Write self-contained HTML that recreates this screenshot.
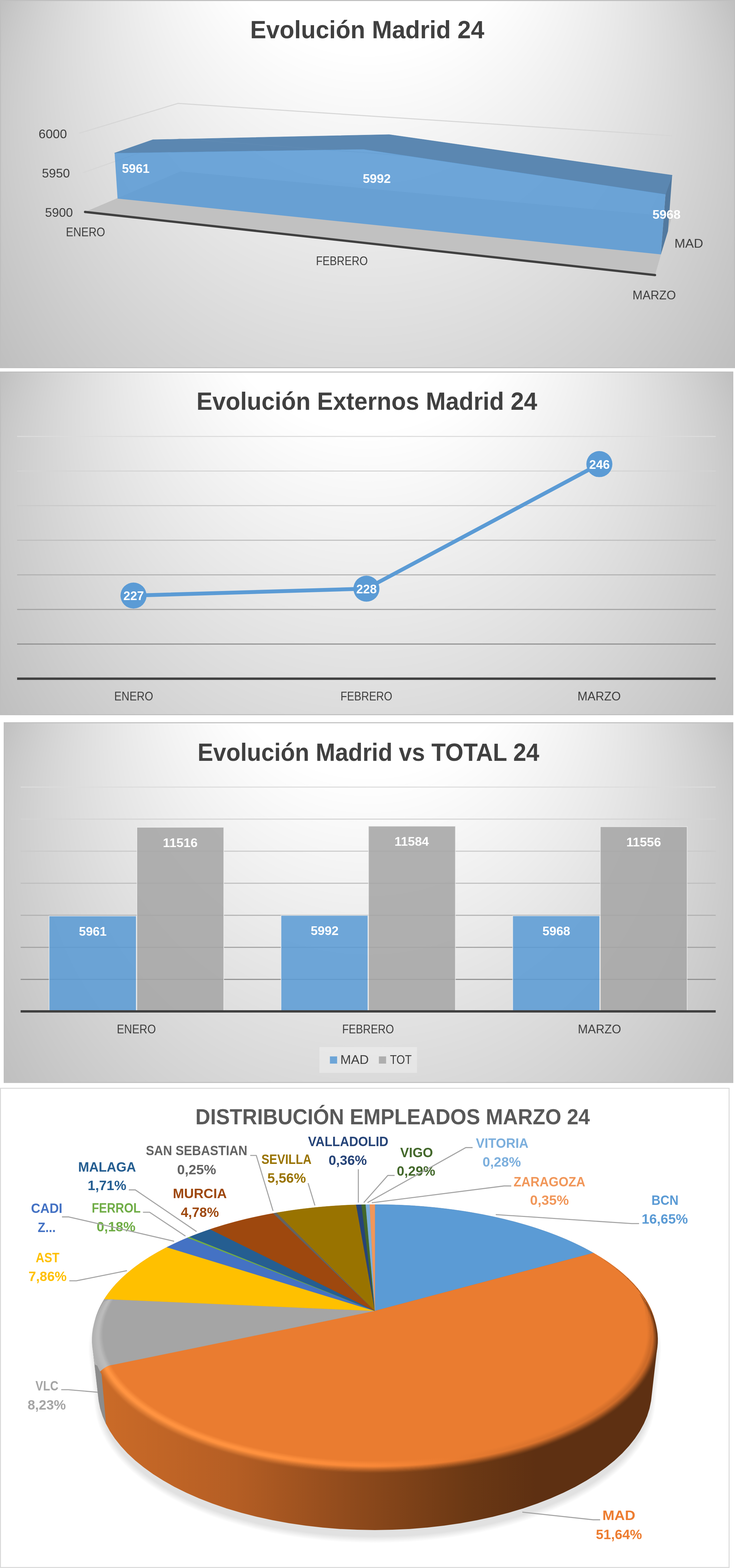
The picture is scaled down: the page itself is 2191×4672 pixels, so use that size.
<!DOCTYPE html>
<html lang="es"><head><meta charset="utf-8"><title>Evolución Madrid 24</title>
<style>html,body{margin:0;padding:0;background:#fff}svg{display:block}text{font-family:"Liberation Sans",sans-serif}</style></head>
<body>
<svg width="2191" height="4672" viewBox="0 0 2191 4672">
<defs>
<clipPath id="bg1"><rect x="3" y="3" width="2185" height="1091"/></clipPath>
<clipPath id="bg2"><rect x="3" y="1110" width="2180" height="1018"/></clipPath>
<clipPath id="bg3"><rect x="14" y="2155" width="2169" height="1068.8000000000002"/></clipPath>
<linearGradient id="wall" gradientUnits="userSpaceOnUse" x1="275" y1="0" x2="1962" y2="0"><stop offset="0.000" stop-color="#8c8c8c"/><stop offset="0.013" stop-color="#8c8c8c"/><stop offset="0.013" stop-color="#cb6b28"/><stop offset="0.252" stop-color="#b55e24"/><stop offset="0.459" stop-color="#8f4a1c"/><stop offset="0.667" stop-color="#6b3814"/><stop offset="0.785" stop-color="#5e3012"/><stop offset="1.000" stop-color="#5e3012"/></linearGradient>
<clipPath id="hullc"><polygon points="274.7,4000.0 275.1,3979.0 277.9,3958.2 281.4,3940.9 287.0,3920.8 294.6,3901.1 304.3,3881.8 316.0,3862.9 329.5,3844.5 344.8,3826.6 361.8,3809.3 380.4,3792.5 400.6,3776.3 422.2,3760.6 445.2,3745.6 469.4,3731.3 494.9,3717.5 521.5,3704.5 549.1,3692.1 577.7,3680.4 607.3,3669.4 637.6,3659.0 668.8,3649.4 700.7,3640.5 733.2,3632.2 766.3,3624.7 799.9,3617.9 834.1,3611.8 868.6,3606.4 903.5,3601.8 938.7,3597.8 974.1,3594.6 1009.8,3592.1 1045.6,3590.3 1081.5,3589.2 1117.5,3588.9 1153.5,3589.2 1189.4,3590.3 1225.2,3592.1 1260.9,3594.6 1296.3,3597.8 1331.5,3601.8 1366.4,3606.4 1400.9,3611.8 1435.1,3617.9 1468.7,3624.7 1501.8,3632.2 1534.3,3640.5 1566.2,3649.4 1597.4,3659.0 1627.7,3669.4 1657.3,3680.4 1685.9,3692.1 1713.5,3704.5 1740.1,3717.5 1765.6,3731.3 1789.8,3745.6 1812.8,3760.6 1834.4,3776.3 1854.6,3792.5 1873.2,3809.3 1890.2,3826.6 1905.5,3844.5 1919.0,3862.9 1930.7,3881.8 1940.4,3901.1 1948.0,3920.8 1953.6,3940.9 1957.1,3958.2 1959.9,3979.0 1960.3,4000.0 1958.3,4021.3 1940.8,4174.3 1936.2,4196.8 1929.1,4219.3 1919.5,4241.8 1907.3,4264.3 1892.5,4286.5 1875.0,4308.5 1854.9,4330.2 1832.1,4351.4 1806.7,4372.1 1778.6,4392.2 1748.0,4411.6 1714.9,4430.2 1679.5,4447.8 1641.6,4464.4 1601.6,4480.0 1559.6,4494.4 1515.6,4507.5 1469.8,4519.2 1422.5,4529.6 1373.8,4538.4 1324.0,4545.8 1273.2,4551.5 1221.7,4555.7 1169.7,4558.1 1117.5,4559.0 1065.3,4558.1 1013.3,4555.7 961.8,4551.5 911.0,4545.8 861.2,4538.4 812.5,4529.6 765.2,4519.2 719.4,4507.5 675.4,4494.4 633.4,4480.0 593.4,4464.4 555.5,4447.8 520.1,4430.2 487.0,4411.6 456.4,4392.2 428.3,4372.1 402.9,4351.4 380.1,4330.2 360.0,4308.5 342.5,4286.5 327.7,4264.3 315.5,4241.8 305.9,4219.3 298.8,4196.8 294.2,4174.3 276.7,4021.3"/></clipPath>
<linearGradient id="bv0" gradientUnits="userSpaceOnUse" x1="275" y1="0" x2="1962" y2="0"><stop offset="0.000" stop-color="#ec7e32"/><stop offset="0.311" stop-color="#ec7e31"/><stop offset="0.499" stop-color="#eb7d31"/><stop offset="0.637" stop-color="#ea7c30"/><stop offset="0.815" stop-color="#e87b30"/><stop offset="1.000" stop-color="#e77a2f"/></linearGradient>
<linearGradient id="bv1" gradientUnits="userSpaceOnUse" x1="275" y1="0" x2="1962" y2="0"><stop offset="0.000" stop-color="#f08235"/><stop offset="0.311" stop-color="#f08234"/><stop offset="0.499" stop-color="#ee7f32"/><stop offset="0.637" stop-color="#ea7c30"/><stop offset="0.815" stop-color="#e5792f"/><stop offset="1.000" stop-color="#e2772e"/></linearGradient>
<linearGradient id="bv2" gradientUnits="userSpaceOnUse" x1="275" y1="0" x2="1962" y2="0"><stop offset="0.000" stop-color="#f38738"/><stop offset="0.311" stop-color="#f38536"/><stop offset="0.499" stop-color="#f08133"/><stop offset="0.637" stop-color="#ea7c30"/><stop offset="0.815" stop-color="#e2782e"/><stop offset="1.000" stop-color="#dd742c"/></linearGradient>
<linearGradient id="bv3" gradientUnits="userSpaceOnUse" x1="275" y1="0" x2="1962" y2="0"><stop offset="0.000" stop-color="#f78b3b"/><stop offset="0.311" stop-color="#f78939"/><stop offset="0.499" stop-color="#f38334"/><stop offset="0.637" stop-color="#ea7c30"/><stop offset="0.815" stop-color="#df762e"/><stop offset="1.000" stop-color="#d7712b"/></linearGradient>
<linearGradient id="bv4" gradientUnits="userSpaceOnUse" x1="275" y1="0" x2="1962" y2="0"><stop offset="0.000" stop-color="#fb8f3e"/><stop offset="0.311" stop-color="#fb8d3b"/><stop offset="0.499" stop-color="#f58536"/><stop offset="0.637" stop-color="#ea7c30"/><stop offset="0.815" stop-color="#dc742d"/><stop offset="1.000" stop-color="#d26e2a"/></linearGradient>
<linearGradient id="bv5" gradientUnits="userSpaceOnUse" x1="275" y1="0" x2="1962" y2="0"><stop offset="0.000" stop-color="#ff9442"/><stop offset="0.311" stop-color="#ff913e"/><stop offset="0.499" stop-color="#f88737"/><stop offset="0.637" stop-color="#ea7c30"/><stop offset="0.815" stop-color="#d9722c"/><stop offset="1.000" stop-color="#cd6a28"/></linearGradient>
<linearGradient id="bv6" gradientUnits="userSpaceOnUse" x1="275" y1="0" x2="1962" y2="0"><stop offset="0.000" stop-color="#ff9442"/><stop offset="0.311" stop-color="#ff913e"/><stop offset="0.499" stop-color="#f88737"/><stop offset="0.637" stop-color="#ea7c30"/><stop offset="0.815" stop-color="#d9722c"/><stop offset="1.000" stop-color="#cc6a28"/></linearGradient>
<linearGradient id="bv7" gradientUnits="userSpaceOnUse" x1="275" y1="0" x2="1962" y2="0"><stop offset="0.000" stop-color="#ff9442"/><stop offset="0.311" stop-color="#ff913e"/><stop offset="0.499" stop-color="#f88737"/><stop offset="0.637" stop-color="#ea7c30"/><stop offset="0.815" stop-color="#d9722c"/><stop offset="1.000" stop-color="#cc6a28"/></linearGradient>
<linearGradient id="bv8" gradientUnits="userSpaceOnUse" x1="275" y1="0" x2="1962" y2="0"><stop offset="0.000" stop-color="#f98f3f"/><stop offset="0.311" stop-color="#f48a3a"/><stop offset="0.499" stop-color="#ea7f33"/><stop offset="0.637" stop-color="#db742d"/><stop offset="0.815" stop-color="#c96a29"/><stop offset="1.000" stop-color="#be6325"/></linearGradient>
<linearGradient id="bv9" gradientUnits="userSpaceOnUse" x1="275" y1="0" x2="1962" y2="0"><stop offset="0.000" stop-color="#f0893b"/><stop offset="0.311" stop-color="#e78136"/><stop offset="0.499" stop-color="#d8752f"/><stop offset="0.637" stop-color="#c76928"/><stop offset="0.815" stop-color="#b65f25"/><stop offset="1.000" stop-color="#ad5922"/></linearGradient>
<linearGradient id="bv10" gradientUnits="userSpaceOnUse" x1="275" y1="0" x2="1962" y2="0"><stop offset="0.000" stop-color="#e88237"/><stop offset="0.311" stop-color="#d97832"/><stop offset="0.499" stop-color="#c66b2a"/><stop offset="0.637" stop-color="#b45f24"/><stop offset="0.815" stop-color="#a25520"/><stop offset="1.000" stop-color="#9b501e"/></linearGradient>
<linearGradient id="bv11" gradientUnits="userSpaceOnUse" x1="275" y1="0" x2="1962" y2="0"><stop offset="0.000" stop-color="#e07c33"/><stop offset="0.311" stop-color="#cc6f2d"/><stop offset="0.499" stop-color="#b46026"/><stop offset="0.637" stop-color="#a05520"/><stop offset="0.815" stop-color="#8f4a1c"/><stop offset="1.000" stop-color="#8a471b"/></linearGradient>
<linearGradient id="bv12" gradientUnits="userSpaceOnUse" x1="275" y1="0" x2="1962" y2="0"><stop offset="0.000" stop-color="#d8762f"/><stop offset="0.311" stop-color="#be6629"/><stop offset="0.499" stop-color="#a35621"/><stop offset="0.637" stop-color="#8d4a1b"/><stop offset="0.815" stop-color="#7b4018"/><stop offset="1.000" stop-color="#783e17"/></linearGradient>
<linearGradient id="bv13" gradientUnits="userSpaceOnUse" x1="275" y1="0" x2="1962" y2="0"><stop offset="0.000" stop-color="#d06f2b"/><stop offset="0.311" stop-color="#b15d24"/><stop offset="0.499" stop-color="#914c1c"/><stop offset="0.637" stop-color="#7a4017"/><stop offset="0.815" stop-color="#683514"/><stop offset="1.000" stop-color="#673514"/></linearGradient>
</defs>
<g id="chart1">
<rect x="0" y="0" width="2191" height="1097" fill="#bfbfbf"/>
<g clip-path="url(#bg1)">
<circle cx="1095.5" cy="541.7" r="1219.3" fill="#c0c0c0"/>
<circle cx="1095.5" cy="528.1" r="1207.6" fill="#c1c1c1"/>
<circle cx="1095.5" cy="514.5" r="1195.9" fill="#c2c2c2"/>
<circle cx="1095.5" cy="500.9" r="1184.3" fill="#c3c3c3"/>
<circle cx="1095.5" cy="487.3" r="1172.6" fill="#c4c4c4"/>
<circle cx="1095.5" cy="473.7" r="1160.9" fill="#c5c5c5"/>
<circle cx="1095.5" cy="460.1" r="1149.2" fill="#c6c6c6"/>
<circle cx="1095.5" cy="446.6" r="1137.6" fill="#c7c7c7"/>
<circle cx="1095.5" cy="433.0" r="1125.9" fill="#c8c8c8"/>
<circle cx="1095.5" cy="419.4" r="1114.2" fill="#c9c9c9"/>
<circle cx="1095.5" cy="405.8" r="1102.5" fill="#cacaca"/>
<circle cx="1095.5" cy="392.2" r="1090.9" fill="#cbcbcb"/>
<circle cx="1095.5" cy="378.6" r="1079.2" fill="#cccccc"/>
<circle cx="1095.5" cy="365.0" r="1067.5" fill="#cdcdcd"/>
<circle cx="1095.5" cy="351.4" r="1055.8" fill="#cecece"/>
<circle cx="1095.5" cy="337.8" r="1044.1" fill="#cfcfcf"/>
<circle cx="1095.5" cy="324.2" r="1032.5" fill="#d0d0d0"/>
<circle cx="1095.5" cy="310.6" r="1020.8" fill="#d1d1d1"/>
<circle cx="1095.5" cy="297.0" r="1009.1" fill="#d2d2d2"/>
<circle cx="1095.5" cy="283.4" r="997.4" fill="#d3d3d3"/>
<circle cx="1095.5" cy="269.9" r="985.8" fill="#d4d4d4"/>
<circle cx="1095.5" cy="256.3" r="974.1" fill="#d5d5d5"/>
<circle cx="1095.5" cy="242.7" r="962.4" fill="#d6d6d6"/>
<circle cx="1095.5" cy="229.1" r="950.7" fill="#d7d7d7"/>
<circle cx="1095.5" cy="215.5" r="939.1" fill="#d8d8d8"/>
<circle cx="1095.5" cy="201.9" r="927.4" fill="#d9d9d9"/>
<circle cx="1095.5" cy="188.3" r="915.7" fill="#dadada"/>
<circle cx="1095.5" cy="174.7" r="904.0" fill="#dbdbdb"/>
<circle cx="1095.5" cy="161.1" r="892.3" fill="#dcdcdc"/>
<circle cx="1095.5" cy="147.5" r="880.7" fill="#dddddd"/>
<circle cx="1095.5" cy="133.9" r="869.0" fill="#dedede"/>
<circle cx="1095.5" cy="120.3" r="857.3" fill="#dfdfdf"/>
<circle cx="1095.5" cy="106.7" r="845.6" fill="#e0e0e0"/>
<circle cx="1095.5" cy="93.2" r="834.0" fill="#e1e1e1"/>
<circle cx="1095.5" cy="79.6" r="822.3" fill="#e2e2e2"/>
<circle cx="1095.5" cy="66.0" r="810.6" fill="#e3e3e3"/>
<circle cx="1095.5" cy="52.4" r="798.9" fill="#e4e4e4"/>
<circle cx="1095.5" cy="38.8" r="787.2" fill="#e5e5e5"/>
<circle cx="1095.5" cy="25.2" r="775.6" fill="#e6e6e6"/>
<circle cx="1095.5" cy="11.6" r="763.9" fill="#e7e7e7"/>
<circle cx="1095.5" cy="-2.0" r="752.2" fill="#e8e8e8"/>
<circle cx="1095.5" cy="-15.6" r="740.5" fill="#e9e9e9"/>
<circle cx="1095.5" cy="-29.2" r="728.9" fill="#eaeaea"/>
<circle cx="1095.5" cy="-42.8" r="717.2" fill="#ebebeb"/>
<circle cx="1095.5" cy="-56.4" r="705.5" fill="#ececec"/>
<circle cx="1095.5" cy="-70.0" r="693.8" fill="#ededed"/>
<circle cx="1095.5" cy="-83.6" r="682.2" fill="#eeeeee"/>
<circle cx="1095.5" cy="-97.1" r="670.5" fill="#efefef"/>
<circle cx="1095.5" cy="-110.7" r="658.8" fill="#f0f0f0"/>
<circle cx="1095.5" cy="-124.3" r="647.1" fill="#f1f1f1"/>
<circle cx="1095.5" cy="-137.9" r="635.4" fill="#f2f2f2"/>
<circle cx="1095.5" cy="-151.5" r="623.8" fill="#f3f3f3"/>
<circle cx="1095.5" cy="-165.1" r="612.1" fill="#f4f4f4"/>
<circle cx="1095.5" cy="-178.7" r="600.4" fill="#f5f5f5"/>
<circle cx="1095.5" cy="-192.3" r="588.7" fill="#f6f6f6"/>
<circle cx="1095.5" cy="-205.9" r="577.1" fill="#f7f7f7"/>
<circle cx="1095.5" cy="-219.5" r="565.4" fill="#f8f8f8"/>
<circle cx="1095.5" cy="-233.1" r="553.7" fill="#f9f9f9"/>
<circle cx="1095.5" cy="-246.7" r="542.0" fill="#fafafa"/>
<circle cx="1095.5" cy="-260.3" r="530.4" fill="#fbfbfb"/>
<circle cx="1095.5" cy="-273.8" r="518.7" fill="#fcfcfc"/>
<circle cx="1095.5" cy="-287.4" r="507.0" fill="#fdfdfd"/>
<circle cx="1095.5" cy="-301.0" r="495.3" fill="#fefefe"/>
<circle cx="1095.5" cy="-314.6" r="483.6" fill="#ffffff"/>
</g>
<polyline points="236.0,397.0 530.3,308.1 2003.0,404.5" fill="none" stroke="#d6d6d6" stroke-width="3" stroke-linejoin="round"/>
<polyline points="247.0,514.7 535.0,413.5 2003.0,523.0" fill="none" stroke="#d6d6d6" stroke-width="3" stroke-linejoin="round"/>
<polygon points="253.6,631.5 537.7,510.8 2003.0,645.0 1952.6,819.7" fill="#c1c1c1"/>
<polygon points="1983.8,578.8 2003.6,522.2 1991.3,688.5 1970.0,758.0" fill="#52799f"/>
<polygon points="341.6,456.1 455.8,416.4 1160.1,401.0 2003.6,522.2 1983.8,578.8 1083.1,444.7" fill="#5b87b1" stroke="#5b87b1" stroke-width="1.2" stroke-linejoin="round"/>
<polyline points="600.0,418.4 1000.0,448.2" fill="none" stroke="#6a92ba" stroke-width="2" stroke-opacity="0.3"/>
<polygon points="341.6,456.1 1083.1,444.7 1983.8,578.8 1970.0,758.0 350.5,591.7" fill="#5b9bd5" fill-opacity="0.88"/>
<polyline points="253.6,631.5 1952.6,819.7" fill="none" stroke="#404040" stroke-width="6.8" stroke-linecap="round"/>
<text transform="translate(745.7,113.7) scale(0.965,1)" font-size="74.4" font-weight="bold" fill="#404040">Evolución Madrid 24</text>
<text transform="translate(115.1,412.0) scale(1.037,1)" font-size="36.6" fill="#404040">6000</text>
<text transform="translate(125.0,529.3) scale(1.024,1)" font-size="36.6" fill="#404040">5950</text>
<text transform="translate(134.3,645.7) scale(1.019,1)" font-size="36.6" fill="#404040">5900</text>
<text transform="translate(196.6,704.3) scale(0.898,1)" font-size="36.6" fill="#404040">ENERO</text>
<text transform="translate(941.9,790.0) scale(0.874,1)" font-size="36.6" fill="#404040">FEBRERO</text>
<text transform="translate(1885.6,891.7) scale(0.978,1)" font-size="36.6" fill="#404040">MARZO</text>
<text transform="translate(2010.4,738.2) scale(1.056,1)" font-size="36.6" fill="#404040">MAD</text>
<text transform="translate(363.4,515.0) scale(1.014,1)" font-size="36.6" font-weight="bold" fill="#fff">5961</text>
<text transform="translate(1081.4,545.0) scale(1.027,1)" font-size="36.6" font-weight="bold" fill="#fff">5992</text>
<text transform="translate(1945.0,652.3) scale(1.027,1)" font-size="36.6" font-weight="bold" fill="#fff">5968</text>
</g>
<g id="chart2">
<rect x="0" y="1107" width="2186" height="1024" fill="#bfbfbf"/>
<g clip-path="url(#bg2)">
<circle cx="1093.0" cy="1612.7" r="1201.2" fill="#c0c0c0"/>
<circle cx="1093.0" cy="1600.0" r="1189.7" fill="#c1c1c1"/>
<circle cx="1093.0" cy="1587.3" r="1178.2" fill="#c2c2c2"/>
<circle cx="1093.0" cy="1574.6" r="1166.7" fill="#c3c3c3"/>
<circle cx="1093.0" cy="1561.9" r="1155.2" fill="#c4c4c4"/>
<circle cx="1093.0" cy="1549.2" r="1143.7" fill="#c5c5c5"/>
<circle cx="1093.0" cy="1536.5" r="1132.2" fill="#c6c6c6"/>
<circle cx="1093.0" cy="1523.8" r="1120.7" fill="#c7c7c7"/>
<circle cx="1093.0" cy="1511.2" r="1109.2" fill="#c8c8c8"/>
<circle cx="1093.0" cy="1498.5" r="1097.7" fill="#c9c9c9"/>
<circle cx="1093.0" cy="1485.8" r="1086.2" fill="#cacaca"/>
<circle cx="1093.0" cy="1473.1" r="1074.7" fill="#cbcbcb"/>
<circle cx="1093.0" cy="1460.4" r="1063.2" fill="#cccccc"/>
<circle cx="1093.0" cy="1447.7" r="1051.7" fill="#cdcdcd"/>
<circle cx="1093.0" cy="1435.0" r="1040.2" fill="#cecece"/>
<circle cx="1093.0" cy="1422.3" r="1028.7" fill="#cfcfcf"/>
<circle cx="1093.0" cy="1409.6" r="1017.2" fill="#d0d0d0"/>
<circle cx="1093.0" cy="1397.0" r="1005.7" fill="#d1d1d1"/>
<circle cx="1093.0" cy="1384.3" r="994.2" fill="#d2d2d2"/>
<circle cx="1093.0" cy="1371.6" r="982.6" fill="#d3d3d3"/>
<circle cx="1093.0" cy="1358.9" r="971.1" fill="#d4d4d4"/>
<circle cx="1093.0" cy="1346.2" r="959.6" fill="#d5d5d5"/>
<circle cx="1093.0" cy="1333.5" r="948.1" fill="#d6d6d6"/>
<circle cx="1093.0" cy="1320.8" r="936.6" fill="#d7d7d7"/>
<circle cx="1093.0" cy="1308.1" r="925.1" fill="#d8d8d8"/>
<circle cx="1093.0" cy="1295.5" r="913.6" fill="#d9d9d9"/>
<circle cx="1093.0" cy="1282.8" r="902.1" fill="#dadada"/>
<circle cx="1093.0" cy="1270.1" r="890.6" fill="#dbdbdb"/>
<circle cx="1093.0" cy="1257.4" r="879.1" fill="#dcdcdc"/>
<circle cx="1093.0" cy="1244.7" r="867.6" fill="#dddddd"/>
<circle cx="1093.0" cy="1232.0" r="856.1" fill="#dedede"/>
<circle cx="1093.0" cy="1219.3" r="844.6" fill="#dfdfdf"/>
<circle cx="1093.0" cy="1206.6" r="833.1" fill="#e0e0e0"/>
<circle cx="1093.0" cy="1194.0" r="821.6" fill="#e1e1e1"/>
<circle cx="1093.0" cy="1181.3" r="810.1" fill="#e2e2e2"/>
<circle cx="1093.0" cy="1168.6" r="798.6" fill="#e3e3e3"/>
<circle cx="1093.0" cy="1155.9" r="787.1" fill="#e4e4e4"/>
<circle cx="1093.0" cy="1143.2" r="775.6" fill="#e5e5e5"/>
<circle cx="1093.0" cy="1130.5" r="764.1" fill="#e6e6e6"/>
<circle cx="1093.0" cy="1117.8" r="752.6" fill="#e7e7e7"/>
<circle cx="1093.0" cy="1105.1" r="741.1" fill="#e8e8e8"/>
<circle cx="1093.0" cy="1092.4" r="729.6" fill="#e9e9e9"/>
<circle cx="1093.0" cy="1079.8" r="718.1" fill="#eaeaea"/>
<circle cx="1093.0" cy="1067.1" r="706.6" fill="#ebebeb"/>
<circle cx="1093.0" cy="1054.4" r="695.0" fill="#ececec"/>
<circle cx="1093.0" cy="1041.7" r="683.5" fill="#ededed"/>
<circle cx="1093.0" cy="1029.0" r="672.0" fill="#eeeeee"/>
<circle cx="1093.0" cy="1016.3" r="660.5" fill="#efefef"/>
<circle cx="1093.0" cy="1003.6" r="649.0" fill="#f0f0f0"/>
<circle cx="1093.0" cy="990.9" r="637.5" fill="#f1f1f1"/>
<circle cx="1093.0" cy="978.3" r="626.0" fill="#f2f2f2"/>
<circle cx="1093.0" cy="965.6" r="614.5" fill="#f3f3f3"/>
<circle cx="1093.0" cy="952.9" r="603.0" fill="#f4f4f4"/>
<circle cx="1093.0" cy="940.2" r="591.5" fill="#f5f5f5"/>
<circle cx="1093.0" cy="927.5" r="580.0" fill="#f6f6f6"/>
<circle cx="1093.0" cy="914.8" r="568.5" fill="#f7f7f7"/>
<circle cx="1093.0" cy="902.1" r="557.0" fill="#f8f8f8"/>
<circle cx="1093.0" cy="889.4" r="545.5" fill="#f9f9f9"/>
<circle cx="1093.0" cy="876.8" r="534.0" fill="#fafafa"/>
<circle cx="1093.0" cy="864.1" r="522.5" fill="#fbfbfb"/>
<circle cx="1093.0" cy="851.4" r="511.0" fill="#fcfcfc"/>
<circle cx="1093.0" cy="838.7" r="499.5" fill="#fdfdfd"/>
<circle cx="1093.0" cy="826.0" r="488.0" fill="#fefefe"/>
<circle cx="1093.0" cy="813.3" r="476.5" fill="#ffffff"/>
</g>
<rect x="51" y="1298.9" width="2082.5" height="3" fill="#dcdcdc"/>
<rect x="51" y="1402.0" width="2082.5" height="3" fill="#d4d4d4"/>
<rect x="51" y="1505.1" width="2082.5" height="3" fill="#c9c9c9"/>
<rect x="51" y="1608.2" width="2082.5" height="3" fill="#bdbdbd"/>
<rect x="51" y="1711.3" width="2082.5" height="3" fill="#b0b0b0"/>
<rect x="51" y="1814.4" width="2082.5" height="3" fill="#a0a0a0"/>
<rect x="51" y="1917.5" width="2082.5" height="3" fill="#8a8a8a"/>
<rect x="51" y="2018.7" width="2082.5" height="7" fill="#404040"/>
<polyline points="398.0,1774.5 1092.3,1754.0 1786.7,1382.8" fill="none" stroke="#5b9bd5" stroke-width="11.5" stroke-linejoin="round"/>
<circle cx="398" cy="1774.5" r="38.8" fill="#5b9bd5"/>
<circle cx="1092.3" cy="1754" r="38.8" fill="#5b9bd5"/>
<circle cx="1786.7" cy="1382.8" r="38.8" fill="#5b9bd5"/>
<text transform="translate(585.8,1221.4) scale(0.956,1)" font-size="74.4" font-weight="bold" fill="#404040">Evolución Externos Madrid 24</text>
<text transform="translate(367.7,1788.3) scale(1.005,1)" font-size="36.6" font-weight="bold" fill="#fff">227</text>
<text transform="translate(1062.0,1767.8) scale(0.999,1)" font-size="36.6" font-weight="bold" fill="#fff">228</text>
<text transform="translate(1756.2,1396.6) scale(1.011,1)" font-size="36.6" font-weight="bold" fill="#fff">246</text>
<text transform="translate(340.6,2087.3) scale(0.891,1)" font-size="36.6" fill="#404040">ENERO</text>
<text transform="translate(1014.9,2087.3) scale(0.874,1)" font-size="36.6" fill="#404040">FEBRERO</text>
<text transform="translate(1721.6,2087.3) scale(0.976,1)" font-size="36.6" fill="#404040">MARZO</text>
</g>
<g id="chart3">
<rect x="11" y="2152" width="2175" height="1074.8000000000002" fill="#bfbfbf"/>
<g clip-path="url(#bg3)">
<circle cx="1098.5" cy="2682.7" r="1207.3" fill="#c0c0c0"/>
<circle cx="1098.5" cy="2669.4" r="1195.7" fill="#c1c1c1"/>
<circle cx="1098.5" cy="2656.1" r="1184.1" fill="#c2c2c2"/>
<circle cx="1098.5" cy="2642.8" r="1172.6" fill="#c3c3c3"/>
<circle cx="1098.5" cy="2629.5" r="1161.0" fill="#c4c4c4"/>
<circle cx="1098.5" cy="2616.2" r="1149.4" fill="#c5c5c5"/>
<circle cx="1098.5" cy="2602.8" r="1137.9" fill="#c6c6c6"/>
<circle cx="1098.5" cy="2589.5" r="1126.3" fill="#c7c7c7"/>
<circle cx="1098.5" cy="2576.2" r="1114.8" fill="#c8c8c8"/>
<circle cx="1098.5" cy="2562.9" r="1103.2" fill="#c9c9c9"/>
<circle cx="1098.5" cy="2549.6" r="1091.6" fill="#cacaca"/>
<circle cx="1098.5" cy="2536.2" r="1080.1" fill="#cbcbcb"/>
<circle cx="1098.5" cy="2522.9" r="1068.5" fill="#cccccc"/>
<circle cx="1098.5" cy="2509.6" r="1057.0" fill="#cdcdcd"/>
<circle cx="1098.5" cy="2496.3" r="1045.4" fill="#cecece"/>
<circle cx="1098.5" cy="2483.0" r="1033.8" fill="#cfcfcf"/>
<circle cx="1098.5" cy="2469.7" r="1022.3" fill="#d0d0d0"/>
<circle cx="1098.5" cy="2456.3" r="1010.7" fill="#d1d1d1"/>
<circle cx="1098.5" cy="2443.0" r="999.1" fill="#d2d2d2"/>
<circle cx="1098.5" cy="2429.7" r="987.6" fill="#d3d3d3"/>
<circle cx="1098.5" cy="2416.4" r="976.0" fill="#d4d4d4"/>
<circle cx="1098.5" cy="2403.1" r="964.5" fill="#d5d5d5"/>
<circle cx="1098.5" cy="2389.8" r="952.9" fill="#d6d6d6"/>
<circle cx="1098.5" cy="2376.4" r="941.3" fill="#d7d7d7"/>
<circle cx="1098.5" cy="2363.1" r="929.8" fill="#d8d8d8"/>
<circle cx="1098.5" cy="2349.8" r="918.2" fill="#d9d9d9"/>
<circle cx="1098.5" cy="2336.5" r="906.6" fill="#dadada"/>
<circle cx="1098.5" cy="2323.2" r="895.1" fill="#dbdbdb"/>
<circle cx="1098.5" cy="2309.9" r="883.5" fill="#dcdcdc"/>
<circle cx="1098.5" cy="2296.5" r="872.0" fill="#dddddd"/>
<circle cx="1098.5" cy="2283.2" r="860.4" fill="#dedede"/>
<circle cx="1098.5" cy="2269.9" r="848.8" fill="#dfdfdf"/>
<circle cx="1098.5" cy="2256.6" r="837.3" fill="#e0e0e0"/>
<circle cx="1098.5" cy="2243.3" r="825.7" fill="#e1e1e1"/>
<circle cx="1098.5" cy="2229.9" r="814.2" fill="#e2e2e2"/>
<circle cx="1098.5" cy="2216.6" r="802.6" fill="#e3e3e3"/>
<circle cx="1098.5" cy="2203.3" r="791.0" fill="#e4e4e4"/>
<circle cx="1098.5" cy="2190.0" r="779.5" fill="#e5e5e5"/>
<circle cx="1098.5" cy="2176.7" r="767.9" fill="#e6e6e6"/>
<circle cx="1098.5" cy="2163.4" r="756.3" fill="#e7e7e7"/>
<circle cx="1098.5" cy="2150.0" r="744.8" fill="#e8e8e8"/>
<circle cx="1098.5" cy="2136.7" r="733.2" fill="#e9e9e9"/>
<circle cx="1098.5" cy="2123.4" r="721.7" fill="#eaeaea"/>
<circle cx="1098.5" cy="2110.1" r="710.1" fill="#ebebeb"/>
<circle cx="1098.5" cy="2096.8" r="698.5" fill="#ececec"/>
<circle cx="1098.5" cy="2083.5" r="687.0" fill="#ededed"/>
<circle cx="1098.5" cy="2070.1" r="675.4" fill="#eeeeee"/>
<circle cx="1098.5" cy="2056.8" r="663.9" fill="#efefef"/>
<circle cx="1098.5" cy="2043.5" r="652.3" fill="#f0f0f0"/>
<circle cx="1098.5" cy="2030.2" r="640.7" fill="#f1f1f1"/>
<circle cx="1098.5" cy="2016.9" r="629.2" fill="#f2f2f2"/>
<circle cx="1098.5" cy="2003.6" r="617.6" fill="#f3f3f3"/>
<circle cx="1098.5" cy="1990.2" r="606.0" fill="#f4f4f4"/>
<circle cx="1098.5" cy="1976.9" r="594.5" fill="#f5f5f5"/>
<circle cx="1098.5" cy="1963.6" r="582.9" fill="#f6f6f6"/>
<circle cx="1098.5" cy="1950.3" r="571.4" fill="#f7f7f7"/>
<circle cx="1098.5" cy="1937.0" r="559.8" fill="#f8f8f8"/>
<circle cx="1098.5" cy="1923.6" r="548.2" fill="#f9f9f9"/>
<circle cx="1098.5" cy="1910.3" r="536.7" fill="#fafafa"/>
<circle cx="1098.5" cy="1897.0" r="525.1" fill="#fbfbfb"/>
<circle cx="1098.5" cy="1883.7" r="513.5" fill="#fcfcfc"/>
<circle cx="1098.5" cy="1870.4" r="502.0" fill="#fdfdfd"/>
<circle cx="1098.5" cy="1857.1" r="490.4" fill="#fefefe"/>
<circle cx="1098.5" cy="1843.7" r="478.9" fill="#ffffff"/>
</g>
<rect x="61.5" y="2343.7" width="2072" height="3" fill="#dcdcdc"/>
<rect x="61.5" y="2439.2" width="2072" height="3" fill="#d4d4d4"/>
<rect x="61.5" y="2534.7" width="2072" height="3" fill="#c9c9c9"/>
<rect x="61.5" y="2630.2" width="2072" height="3" fill="#bdbdbd"/>
<rect x="61.5" y="2725.7" width="2072" height="3" fill="#b0b0b0"/>
<rect x="61.5" y="2821.2" width="2072" height="3" fill="#a0a0a0"/>
<rect x="61.5" y="2916.7" width="2072" height="3" fill="#8a8a8a"/>
<rect x="146.4" y="2729.3" width="259.8" height="281.7" fill="#5b9bd5" fill-opacity="0.87" stroke="#f2f2f2" stroke-opacity="0.75" stroke-width="2"/>
<rect x="408" y="2465" width="259.0" height="546.0" fill="#a5a5a5" fill-opacity="0.87" stroke="#f2f2f2" stroke-opacity="0.75" stroke-width="2"/>
<rect x="837.7" y="2727.6" width="259.0" height="283.4" fill="#5b9bd5" fill-opacity="0.87" stroke="#f2f2f2" stroke-opacity="0.75" stroke-width="2"/>
<rect x="1098.5" y="2461.7" width="259.0" height="549.3" fill="#a5a5a5" fill-opacity="0.87" stroke="#f2f2f2" stroke-opacity="0.75" stroke-width="2"/>
<rect x="1528.3" y="2728.7" width="259.4" height="282.3" fill="#5b9bd5" fill-opacity="0.87" stroke="#f2f2f2" stroke-opacity="0.75" stroke-width="2"/>
<rect x="1789.5" y="2463.3" width="258.8" height="547.7" fill="#a5a5a5" fill-opacity="0.87" stroke="#f2f2f2" stroke-opacity="0.75" stroke-width="2"/>
<rect x="61.5" y="3010" width="2072" height="7" fill="#404040"/>
<text transform="translate(588.9,2267.3) scale(0.937,1)" font-size="74.4" font-weight="bold" fill="#404040">Evolución Madrid vs TOTAL 24</text>
<text transform="translate(235.3,2787.9) scale(1.015,1)" font-size="36.6" font-weight="bold" fill="#fff">5961</text>
<text transform="translate(485.6,2523.6) scale(1.039,1)" font-size="36.6" font-weight="bold" fill="#fff">11516</text>
<text transform="translate(926.2,2786.2) scale(1.022,1)" font-size="36.6" font-weight="bold" fill="#fff">5992</text>
<text transform="translate(1176.1,2520.3) scale(1.027,1)" font-size="36.6" font-weight="bold" fill="#fff">11584</text>
<text transform="translate(1617.0,2787.3) scale(1.017,1)" font-size="36.6" font-weight="bold" fill="#fff">5968</text>
<text transform="translate(1867.0,2521.9) scale(1.039,1)" font-size="36.6" font-weight="bold" fill="#fff">11556</text>
<text transform="translate(348.2,3079.3) scale(0.895,1)" font-size="36.6" fill="#404040">ENERO</text>
<text transform="translate(1019.9,3079.3) scale(0.874,1)" font-size="36.6" fill="#404040">FEBRERO</text>
<text transform="translate(1722.6,3079.3) scale(0.976,1)" font-size="36.6" fill="#404040">MARZO</text>
<rect x="952" y="3119.8" width="291" height="77" fill="#fff" fill-opacity="0.3"/>
<rect x="982.8" y="3147" width="22.8" height="22.8" fill="#5b9bd5" fill-opacity="0.87" stroke="#e8e8e8" stroke-opacity="0.8" stroke-width="1.6"/>
<rect x="1128.8" y="3147" width="22.8" height="22.8" fill="#a5a5a5" fill-opacity="0.87" stroke="#e8e8e8" stroke-opacity="0.8" stroke-width="1.6"/>
<text transform="translate(1014.4,3170.0) scale(1.043,1)" font-size="36.6" fill="#404040">MAD</text>
<text transform="translate(1162.4,3170.0) scale(0.893,1)" font-size="36.6" fill="#404040">TOT</text>
</g>
<g id="chart4">
<rect x="1.4" y="3242.7" width="2172" height="1427.7" fill="#fff" stroke="#d9d9d9" stroke-width="2.8"/>
<g fill="#000" fill-opacity="0.0115">
<polygon points="274.7,4000.0 275.1,3979.0 277.9,3958.2 281.4,3940.9 287.0,3920.8 294.6,3901.1 304.3,3881.8 316.0,3862.9 329.5,3844.5 344.8,3826.6 361.8,3809.3 380.4,3792.5 400.6,3776.3 422.2,3760.6 445.2,3745.6 469.4,3731.3 494.9,3717.5 521.5,3704.5 549.1,3692.1 577.7,3680.4 607.3,3669.4 637.6,3659.0 668.8,3649.4 700.7,3640.5 733.2,3632.2 766.3,3624.7 799.9,3617.9 834.1,3611.8 868.6,3606.4 903.5,3601.8 938.7,3597.8 974.1,3594.6 1009.8,3592.1 1045.6,3590.3 1081.5,3589.2 1117.5,3588.9 1153.5,3589.2 1189.4,3590.3 1225.2,3592.1 1260.9,3594.6 1296.3,3597.8 1331.5,3601.8 1366.4,3606.4 1400.9,3611.8 1435.1,3617.9 1468.7,3624.7 1501.8,3632.2 1534.3,3640.5 1566.2,3649.4 1597.4,3659.0 1627.7,3669.4 1657.3,3680.4 1685.9,3692.1 1713.5,3704.5 1740.1,3717.5 1765.6,3731.3 1789.8,3745.6 1812.8,3760.6 1834.4,3776.3 1854.6,3792.5 1873.2,3809.3 1890.2,3826.6 1905.5,3844.5 1919.0,3862.9 1930.7,3881.8 1940.4,3901.1 1948.0,3920.8 1953.6,3940.9 1957.1,3958.2 1959.9,3979.0 1960.3,4000.0 1958.3,4021.3 1940.8,4174.3 1936.2,4196.8 1929.1,4219.3 1919.5,4241.8 1907.3,4264.3 1892.5,4286.5 1875.0,4308.5 1854.9,4330.2 1832.1,4351.4 1806.7,4372.1 1778.6,4392.2 1748.0,4411.6 1714.9,4430.2 1679.5,4447.8 1641.6,4464.4 1601.6,4480.0 1559.6,4494.4 1515.6,4507.5 1469.8,4519.2 1422.5,4529.6 1373.8,4538.4 1324.0,4545.8 1273.2,4551.5 1221.7,4555.7 1169.7,4558.1 1117.5,4559.0 1065.3,4558.1 1013.3,4555.7 961.8,4551.5 911.0,4545.8 861.2,4538.4 812.5,4529.6 765.2,4519.2 719.4,4507.5 675.4,4494.4 633.4,4480.0 593.4,4464.4 555.5,4447.8 520.1,4430.2 487.0,4411.6 456.4,4392.2 428.3,4372.1 402.9,4351.4 380.1,4330.2 360.0,4308.5 342.5,4286.5 327.7,4264.3 315.5,4241.8 305.9,4219.3 298.8,4196.8 294.2,4174.3 276.7,4021.3" transform="translate(9.28,85.79) scale(0.9917,0.9856)"/>
<polygon points="274.7,4000.0 275.1,3979.0 277.9,3958.2 281.4,3940.9 287.0,3920.8 294.6,3901.1 304.3,3881.8 316.0,3862.9 329.5,3844.5 344.8,3826.6 361.8,3809.3 380.4,3792.5 400.6,3776.3 422.2,3760.6 445.2,3745.6 469.4,3731.3 494.9,3717.5 521.5,3704.5 549.1,3692.1 577.7,3680.4 607.3,3669.4 637.6,3659.0 668.8,3649.4 700.7,3640.5 733.2,3632.2 766.3,3624.7 799.9,3617.9 834.1,3611.8 868.6,3606.4 903.5,3601.8 938.7,3597.8 974.1,3594.6 1009.8,3592.1 1045.6,3590.3 1081.5,3589.2 1117.5,3588.9 1153.5,3589.2 1189.4,3590.3 1225.2,3592.1 1260.9,3594.6 1296.3,3597.8 1331.5,3601.8 1366.4,3606.4 1400.9,3611.8 1435.1,3617.9 1468.7,3624.7 1501.8,3632.2 1534.3,3640.5 1566.2,3649.4 1597.4,3659.0 1627.7,3669.4 1657.3,3680.4 1685.9,3692.1 1713.5,3704.5 1740.1,3717.5 1765.6,3731.3 1789.8,3745.6 1812.8,3760.6 1834.4,3776.3 1854.6,3792.5 1873.2,3809.3 1890.2,3826.6 1905.5,3844.5 1919.0,3862.9 1930.7,3881.8 1940.4,3901.1 1948.0,3920.8 1953.6,3940.9 1957.1,3958.2 1959.9,3979.0 1960.3,4000.0 1958.3,4021.3 1940.8,4174.3 1936.2,4196.8 1929.1,4219.3 1919.5,4241.8 1907.3,4264.3 1892.5,4286.5 1875.0,4308.5 1854.9,4330.2 1832.1,4351.4 1806.7,4372.1 1778.6,4392.2 1748.0,4411.6 1714.9,4430.2 1679.5,4447.8 1641.6,4464.4 1601.6,4480.0 1559.6,4494.4 1515.6,4507.5 1469.8,4519.2 1422.5,4529.6 1373.8,4538.4 1324.0,4545.8 1273.2,4551.5 1221.7,4555.7 1169.7,4558.1 1117.5,4559.0 1065.3,4558.1 1013.3,4555.7 961.8,4551.5 911.0,4545.8 861.2,4538.4 812.5,4529.6 765.2,4519.2 719.4,4507.5 675.4,4494.4 633.4,4480.0 593.4,4464.4 555.5,4447.8 520.1,4430.2 487.0,4411.6 456.4,4392.2 428.3,4372.1 402.9,4351.4 380.1,4330.2 360.0,4308.5 342.5,4286.5 327.7,4264.3 315.5,4241.8 305.9,4219.3 298.8,4196.8 294.2,4174.3 276.7,4021.3" transform="translate(6.63,69.00) scale(0.9941,0.9897)"/>
<polygon points="274.7,4000.0 275.1,3979.0 277.9,3958.2 281.4,3940.9 287.0,3920.8 294.6,3901.1 304.3,3881.8 316.0,3862.9 329.5,3844.5 344.8,3826.6 361.8,3809.3 380.4,3792.5 400.6,3776.3 422.2,3760.6 445.2,3745.6 469.4,3731.3 494.9,3717.5 521.5,3704.5 549.1,3692.1 577.7,3680.4 607.3,3669.4 637.6,3659.0 668.8,3649.4 700.7,3640.5 733.2,3632.2 766.3,3624.7 799.9,3617.9 834.1,3611.8 868.6,3606.4 903.5,3601.8 938.7,3597.8 974.1,3594.6 1009.8,3592.1 1045.6,3590.3 1081.5,3589.2 1117.5,3588.9 1153.5,3589.2 1189.4,3590.3 1225.2,3592.1 1260.9,3594.6 1296.3,3597.8 1331.5,3601.8 1366.4,3606.4 1400.9,3611.8 1435.1,3617.9 1468.7,3624.7 1501.8,3632.2 1534.3,3640.5 1566.2,3649.4 1597.4,3659.0 1627.7,3669.4 1657.3,3680.4 1685.9,3692.1 1713.5,3704.5 1740.1,3717.5 1765.6,3731.3 1789.8,3745.6 1812.8,3760.6 1834.4,3776.3 1854.6,3792.5 1873.2,3809.3 1890.2,3826.6 1905.5,3844.5 1919.0,3862.9 1930.7,3881.8 1940.4,3901.1 1948.0,3920.8 1953.6,3940.9 1957.1,3958.2 1959.9,3979.0 1960.3,4000.0 1958.3,4021.3 1940.8,4174.3 1936.2,4196.8 1929.1,4219.3 1919.5,4241.8 1907.3,4264.3 1892.5,4286.5 1875.0,4308.5 1854.9,4330.2 1832.1,4351.4 1806.7,4372.1 1778.6,4392.2 1748.0,4411.6 1714.9,4430.2 1679.5,4447.8 1641.6,4464.4 1601.6,4480.0 1559.6,4494.4 1515.6,4507.5 1469.8,4519.2 1422.5,4529.6 1373.8,4538.4 1324.0,4545.8 1273.2,4551.5 1221.7,4555.7 1169.7,4558.1 1117.5,4559.0 1065.3,4558.1 1013.3,4555.7 961.8,4551.5 911.0,4545.8 861.2,4538.4 812.5,4529.6 765.2,4519.2 719.4,4507.5 675.4,4494.4 633.4,4480.0 593.4,4464.4 555.5,4447.8 520.1,4430.2 487.0,4411.6 456.4,4392.2 428.3,4372.1 402.9,4351.4 380.1,4330.2 360.0,4308.5 342.5,4286.5 327.7,4264.3 315.5,4241.8 305.9,4219.3 298.8,4196.8 294.2,4174.3 276.7,4021.3" transform="translate(3.98,52.20) scale(0.9964,0.9938)"/>
<polygon points="274.7,4000.0 275.1,3979.0 277.9,3958.2 281.4,3940.9 287.0,3920.8 294.6,3901.1 304.3,3881.8 316.0,3862.9 329.5,3844.5 344.8,3826.6 361.8,3809.3 380.4,3792.5 400.6,3776.3 422.2,3760.6 445.2,3745.6 469.4,3731.3 494.9,3717.5 521.5,3704.5 549.1,3692.1 577.7,3680.4 607.3,3669.4 637.6,3659.0 668.8,3649.4 700.7,3640.5 733.2,3632.2 766.3,3624.7 799.9,3617.9 834.1,3611.8 868.6,3606.4 903.5,3601.8 938.7,3597.8 974.1,3594.6 1009.8,3592.1 1045.6,3590.3 1081.5,3589.2 1117.5,3588.9 1153.5,3589.2 1189.4,3590.3 1225.2,3592.1 1260.9,3594.6 1296.3,3597.8 1331.5,3601.8 1366.4,3606.4 1400.9,3611.8 1435.1,3617.9 1468.7,3624.7 1501.8,3632.2 1534.3,3640.5 1566.2,3649.4 1597.4,3659.0 1627.7,3669.4 1657.3,3680.4 1685.9,3692.1 1713.5,3704.5 1740.1,3717.5 1765.6,3731.3 1789.8,3745.6 1812.8,3760.6 1834.4,3776.3 1854.6,3792.5 1873.2,3809.3 1890.2,3826.6 1905.5,3844.5 1919.0,3862.9 1930.7,3881.8 1940.4,3901.1 1948.0,3920.8 1953.6,3940.9 1957.1,3958.2 1959.9,3979.0 1960.3,4000.0 1958.3,4021.3 1940.8,4174.3 1936.2,4196.8 1929.1,4219.3 1919.5,4241.8 1907.3,4264.3 1892.5,4286.5 1875.0,4308.5 1854.9,4330.2 1832.1,4351.4 1806.7,4372.1 1778.6,4392.2 1748.0,4411.6 1714.9,4430.2 1679.5,4447.8 1641.6,4464.4 1601.6,4480.0 1559.6,4494.4 1515.6,4507.5 1469.8,4519.2 1422.5,4529.6 1373.8,4538.4 1324.0,4545.8 1273.2,4551.5 1221.7,4555.7 1169.7,4558.1 1117.5,4559.0 1065.3,4558.1 1013.3,4555.7 961.8,4551.5 911.0,4545.8 861.2,4538.4 812.5,4529.6 765.2,4519.2 719.4,4507.5 675.4,4494.4 633.4,4480.0 593.4,4464.4 555.5,4447.8 520.1,4430.2 487.0,4411.6 456.4,4392.2 428.3,4372.1 402.9,4351.4 380.1,4330.2 360.0,4308.5 342.5,4286.5 327.7,4264.3 315.5,4241.8 305.9,4219.3 298.8,4196.8 294.2,4174.3 276.7,4021.3" transform="translate(1.33,35.40) scale(0.9988,0.9979)"/>
<polygon points="274.7,4000.0 275.1,3979.0 277.9,3958.2 281.4,3940.9 287.0,3920.8 294.6,3901.1 304.3,3881.8 316.0,3862.9 329.5,3844.5 344.8,3826.6 361.8,3809.3 380.4,3792.5 400.6,3776.3 422.2,3760.6 445.2,3745.6 469.4,3731.3 494.9,3717.5 521.5,3704.5 549.1,3692.1 577.7,3680.4 607.3,3669.4 637.6,3659.0 668.8,3649.4 700.7,3640.5 733.2,3632.2 766.3,3624.7 799.9,3617.9 834.1,3611.8 868.6,3606.4 903.5,3601.8 938.7,3597.8 974.1,3594.6 1009.8,3592.1 1045.6,3590.3 1081.5,3589.2 1117.5,3588.9 1153.5,3589.2 1189.4,3590.3 1225.2,3592.1 1260.9,3594.6 1296.3,3597.8 1331.5,3601.8 1366.4,3606.4 1400.9,3611.8 1435.1,3617.9 1468.7,3624.7 1501.8,3632.2 1534.3,3640.5 1566.2,3649.4 1597.4,3659.0 1627.7,3669.4 1657.3,3680.4 1685.9,3692.1 1713.5,3704.5 1740.1,3717.5 1765.6,3731.3 1789.8,3745.6 1812.8,3760.6 1834.4,3776.3 1854.6,3792.5 1873.2,3809.3 1890.2,3826.6 1905.5,3844.5 1919.0,3862.9 1930.7,3881.8 1940.4,3901.1 1948.0,3920.8 1953.6,3940.9 1957.1,3958.2 1959.9,3979.0 1960.3,4000.0 1958.3,4021.3 1940.8,4174.3 1936.2,4196.8 1929.1,4219.3 1919.5,4241.8 1907.3,4264.3 1892.5,4286.5 1875.0,4308.5 1854.9,4330.2 1832.1,4351.4 1806.7,4372.1 1778.6,4392.2 1748.0,4411.6 1714.9,4430.2 1679.5,4447.8 1641.6,4464.4 1601.6,4480.0 1559.6,4494.4 1515.6,4507.5 1469.8,4519.2 1422.5,4529.6 1373.8,4538.4 1324.0,4545.8 1273.2,4551.5 1221.7,4555.7 1169.7,4558.1 1117.5,4559.0 1065.3,4558.1 1013.3,4555.7 961.8,4551.5 911.0,4545.8 861.2,4538.4 812.5,4529.6 765.2,4519.2 719.4,4507.5 675.4,4494.4 633.4,4480.0 593.4,4464.4 555.5,4447.8 520.1,4430.2 487.0,4411.6 456.4,4392.2 428.3,4372.1 402.9,4351.4 380.1,4330.2 360.0,4308.5 342.5,4286.5 327.7,4264.3 315.5,4241.8 305.9,4219.3 298.8,4196.8 294.2,4174.3 276.7,4021.3" transform="translate(-1.33,18.60) scale(1.0012,1.0021)"/>
<polygon points="274.7,4000.0 275.1,3979.0 277.9,3958.2 281.4,3940.9 287.0,3920.8 294.6,3901.1 304.3,3881.8 316.0,3862.9 329.5,3844.5 344.8,3826.6 361.8,3809.3 380.4,3792.5 400.6,3776.3 422.2,3760.6 445.2,3745.6 469.4,3731.3 494.9,3717.5 521.5,3704.5 549.1,3692.1 577.7,3680.4 607.3,3669.4 637.6,3659.0 668.8,3649.4 700.7,3640.5 733.2,3632.2 766.3,3624.7 799.9,3617.9 834.1,3611.8 868.6,3606.4 903.5,3601.8 938.7,3597.8 974.1,3594.6 1009.8,3592.1 1045.6,3590.3 1081.5,3589.2 1117.5,3588.9 1153.5,3589.2 1189.4,3590.3 1225.2,3592.1 1260.9,3594.6 1296.3,3597.8 1331.5,3601.8 1366.4,3606.4 1400.9,3611.8 1435.1,3617.9 1468.7,3624.7 1501.8,3632.2 1534.3,3640.5 1566.2,3649.4 1597.4,3659.0 1627.7,3669.4 1657.3,3680.4 1685.9,3692.1 1713.5,3704.5 1740.1,3717.5 1765.6,3731.3 1789.8,3745.6 1812.8,3760.6 1834.4,3776.3 1854.6,3792.5 1873.2,3809.3 1890.2,3826.6 1905.5,3844.5 1919.0,3862.9 1930.7,3881.8 1940.4,3901.1 1948.0,3920.8 1953.6,3940.9 1957.1,3958.2 1959.9,3979.0 1960.3,4000.0 1958.3,4021.3 1940.8,4174.3 1936.2,4196.8 1929.1,4219.3 1919.5,4241.8 1907.3,4264.3 1892.5,4286.5 1875.0,4308.5 1854.9,4330.2 1832.1,4351.4 1806.7,4372.1 1778.6,4392.2 1748.0,4411.6 1714.9,4430.2 1679.5,4447.8 1641.6,4464.4 1601.6,4480.0 1559.6,4494.4 1515.6,4507.5 1469.8,4519.2 1422.5,4529.6 1373.8,4538.4 1324.0,4545.8 1273.2,4551.5 1221.7,4555.7 1169.7,4558.1 1117.5,4559.0 1065.3,4558.1 1013.3,4555.7 961.8,4551.5 911.0,4545.8 861.2,4538.4 812.5,4529.6 765.2,4519.2 719.4,4507.5 675.4,4494.4 633.4,4480.0 593.4,4464.4 555.5,4447.8 520.1,4430.2 487.0,4411.6 456.4,4392.2 428.3,4372.1 402.9,4351.4 380.1,4330.2 360.0,4308.5 342.5,4286.5 327.7,4264.3 315.5,4241.8 305.9,4219.3 298.8,4196.8 294.2,4174.3 276.7,4021.3" transform="translate(-3.98,1.80) scale(1.0036,1.0062)"/>
<polygon points="274.7,4000.0 275.1,3979.0 277.9,3958.2 281.4,3940.9 287.0,3920.8 294.6,3901.1 304.3,3881.8 316.0,3862.9 329.5,3844.5 344.8,3826.6 361.8,3809.3 380.4,3792.5 400.6,3776.3 422.2,3760.6 445.2,3745.6 469.4,3731.3 494.9,3717.5 521.5,3704.5 549.1,3692.1 577.7,3680.4 607.3,3669.4 637.6,3659.0 668.8,3649.4 700.7,3640.5 733.2,3632.2 766.3,3624.7 799.9,3617.9 834.1,3611.8 868.6,3606.4 903.5,3601.8 938.7,3597.8 974.1,3594.6 1009.8,3592.1 1045.6,3590.3 1081.5,3589.2 1117.5,3588.9 1153.5,3589.2 1189.4,3590.3 1225.2,3592.1 1260.9,3594.6 1296.3,3597.8 1331.5,3601.8 1366.4,3606.4 1400.9,3611.8 1435.1,3617.9 1468.7,3624.7 1501.8,3632.2 1534.3,3640.5 1566.2,3649.4 1597.4,3659.0 1627.7,3669.4 1657.3,3680.4 1685.9,3692.1 1713.5,3704.5 1740.1,3717.5 1765.6,3731.3 1789.8,3745.6 1812.8,3760.6 1834.4,3776.3 1854.6,3792.5 1873.2,3809.3 1890.2,3826.6 1905.5,3844.5 1919.0,3862.9 1930.7,3881.8 1940.4,3901.1 1948.0,3920.8 1953.6,3940.9 1957.1,3958.2 1959.9,3979.0 1960.3,4000.0 1958.3,4021.3 1940.8,4174.3 1936.2,4196.8 1929.1,4219.3 1919.5,4241.8 1907.3,4264.3 1892.5,4286.5 1875.0,4308.5 1854.9,4330.2 1832.1,4351.4 1806.7,4372.1 1778.6,4392.2 1748.0,4411.6 1714.9,4430.2 1679.5,4447.8 1641.6,4464.4 1601.6,4480.0 1559.6,4494.4 1515.6,4507.5 1469.8,4519.2 1422.5,4529.6 1373.8,4538.4 1324.0,4545.8 1273.2,4551.5 1221.7,4555.7 1169.7,4558.1 1117.5,4559.0 1065.3,4558.1 1013.3,4555.7 961.8,4551.5 911.0,4545.8 861.2,4538.4 812.5,4529.6 765.2,4519.2 719.4,4507.5 675.4,4494.4 633.4,4480.0 593.4,4464.4 555.5,4447.8 520.1,4430.2 487.0,4411.6 456.4,4392.2 428.3,4372.1 402.9,4351.4 380.1,4330.2 360.0,4308.5 342.5,4286.5 327.7,4264.3 315.5,4241.8 305.9,4219.3 298.8,4196.8 294.2,4174.3 276.7,4021.3" transform="translate(-6.63,-15.00) scale(1.0059,1.0103)"/>
<polygon points="274.7,4000.0 275.1,3979.0 277.9,3958.2 281.4,3940.9 287.0,3920.8 294.6,3901.1 304.3,3881.8 316.0,3862.9 329.5,3844.5 344.8,3826.6 361.8,3809.3 380.4,3792.5 400.6,3776.3 422.2,3760.6 445.2,3745.6 469.4,3731.3 494.9,3717.5 521.5,3704.5 549.1,3692.1 577.7,3680.4 607.3,3669.4 637.6,3659.0 668.8,3649.4 700.7,3640.5 733.2,3632.2 766.3,3624.7 799.9,3617.9 834.1,3611.8 868.6,3606.4 903.5,3601.8 938.7,3597.8 974.1,3594.6 1009.8,3592.1 1045.6,3590.3 1081.5,3589.2 1117.5,3588.9 1153.5,3589.2 1189.4,3590.3 1225.2,3592.1 1260.9,3594.6 1296.3,3597.8 1331.5,3601.8 1366.4,3606.4 1400.9,3611.8 1435.1,3617.9 1468.7,3624.7 1501.8,3632.2 1534.3,3640.5 1566.2,3649.4 1597.4,3659.0 1627.7,3669.4 1657.3,3680.4 1685.9,3692.1 1713.5,3704.5 1740.1,3717.5 1765.6,3731.3 1789.8,3745.6 1812.8,3760.6 1834.4,3776.3 1854.6,3792.5 1873.2,3809.3 1890.2,3826.6 1905.5,3844.5 1919.0,3862.9 1930.7,3881.8 1940.4,3901.1 1948.0,3920.8 1953.6,3940.9 1957.1,3958.2 1959.9,3979.0 1960.3,4000.0 1958.3,4021.3 1940.8,4174.3 1936.2,4196.8 1929.1,4219.3 1919.5,4241.8 1907.3,4264.3 1892.5,4286.5 1875.0,4308.5 1854.9,4330.2 1832.1,4351.4 1806.7,4372.1 1778.6,4392.2 1748.0,4411.6 1714.9,4430.2 1679.5,4447.8 1641.6,4464.4 1601.6,4480.0 1559.6,4494.4 1515.6,4507.5 1469.8,4519.2 1422.5,4529.6 1373.8,4538.4 1324.0,4545.8 1273.2,4551.5 1221.7,4555.7 1169.7,4558.1 1117.5,4559.0 1065.3,4558.1 1013.3,4555.7 961.8,4551.5 911.0,4545.8 861.2,4538.4 812.5,4529.6 765.2,4519.2 719.4,4507.5 675.4,4494.4 633.4,4480.0 593.4,4464.4 555.5,4447.8 520.1,4430.2 487.0,4411.6 456.4,4392.2 428.3,4372.1 402.9,4351.4 380.1,4330.2 360.0,4308.5 342.5,4286.5 327.7,4264.3 315.5,4241.8 305.9,4219.3 298.8,4196.8 294.2,4174.3 276.7,4021.3" transform="translate(-9.28,-31.79) scale(1.0083,1.0144)"/>
<polygon points="274.7,4000.0 275.1,3979.0 277.9,3958.2 281.4,3940.9 287.0,3920.8 294.6,3901.1 304.3,3881.8 316.0,3862.9 329.5,3844.5 344.8,3826.6 361.8,3809.3 380.4,3792.5 400.6,3776.3 422.2,3760.6 445.2,3745.6 469.4,3731.3 494.9,3717.5 521.5,3704.5 549.1,3692.1 577.7,3680.4 607.3,3669.4 637.6,3659.0 668.8,3649.4 700.7,3640.5 733.2,3632.2 766.3,3624.7 799.9,3617.9 834.1,3611.8 868.6,3606.4 903.5,3601.8 938.7,3597.8 974.1,3594.6 1009.8,3592.1 1045.6,3590.3 1081.5,3589.2 1117.5,3588.9 1153.5,3589.2 1189.4,3590.3 1225.2,3592.1 1260.9,3594.6 1296.3,3597.8 1331.5,3601.8 1366.4,3606.4 1400.9,3611.8 1435.1,3617.9 1468.7,3624.7 1501.8,3632.2 1534.3,3640.5 1566.2,3649.4 1597.4,3659.0 1627.7,3669.4 1657.3,3680.4 1685.9,3692.1 1713.5,3704.5 1740.1,3717.5 1765.6,3731.3 1789.8,3745.6 1812.8,3760.6 1834.4,3776.3 1854.6,3792.5 1873.2,3809.3 1890.2,3826.6 1905.5,3844.5 1919.0,3862.9 1930.7,3881.8 1940.4,3901.1 1948.0,3920.8 1953.6,3940.9 1957.1,3958.2 1959.9,3979.0 1960.3,4000.0 1958.3,4021.3 1940.8,4174.3 1936.2,4196.8 1929.1,4219.3 1919.5,4241.8 1907.3,4264.3 1892.5,4286.5 1875.0,4308.5 1854.9,4330.2 1832.1,4351.4 1806.7,4372.1 1778.6,4392.2 1748.0,4411.6 1714.9,4430.2 1679.5,4447.8 1641.6,4464.4 1601.6,4480.0 1559.6,4494.4 1515.6,4507.5 1469.8,4519.2 1422.5,4529.6 1373.8,4538.4 1324.0,4545.8 1273.2,4551.5 1221.7,4555.7 1169.7,4558.1 1117.5,4559.0 1065.3,4558.1 1013.3,4555.7 961.8,4551.5 911.0,4545.8 861.2,4538.4 812.5,4529.6 765.2,4519.2 719.4,4507.5 675.4,4494.4 633.4,4480.0 593.4,4464.4 555.5,4447.8 520.1,4430.2 487.0,4411.6 456.4,4392.2 428.3,4372.1 402.9,4351.4 380.1,4330.2 360.0,4308.5 342.5,4286.5 327.7,4264.3 315.5,4241.8 305.9,4219.3 298.8,4196.8 294.2,4174.3 276.7,4021.3" transform="translate(-11.93,-48.59) scale(1.0107,1.0186)"/>
<polygon points="274.7,4000.0 275.1,3979.0 277.9,3958.2 281.4,3940.9 287.0,3920.8 294.6,3901.1 304.3,3881.8 316.0,3862.9 329.5,3844.5 344.8,3826.6 361.8,3809.3 380.4,3792.5 400.6,3776.3 422.2,3760.6 445.2,3745.6 469.4,3731.3 494.9,3717.5 521.5,3704.5 549.1,3692.1 577.7,3680.4 607.3,3669.4 637.6,3659.0 668.8,3649.4 700.7,3640.5 733.2,3632.2 766.3,3624.7 799.9,3617.9 834.1,3611.8 868.6,3606.4 903.5,3601.8 938.7,3597.8 974.1,3594.6 1009.8,3592.1 1045.6,3590.3 1081.5,3589.2 1117.5,3588.9 1153.5,3589.2 1189.4,3590.3 1225.2,3592.1 1260.9,3594.6 1296.3,3597.8 1331.5,3601.8 1366.4,3606.4 1400.9,3611.8 1435.1,3617.9 1468.7,3624.7 1501.8,3632.2 1534.3,3640.5 1566.2,3649.4 1597.4,3659.0 1627.7,3669.4 1657.3,3680.4 1685.9,3692.1 1713.5,3704.5 1740.1,3717.5 1765.6,3731.3 1789.8,3745.6 1812.8,3760.6 1834.4,3776.3 1854.6,3792.5 1873.2,3809.3 1890.2,3826.6 1905.5,3844.5 1919.0,3862.9 1930.7,3881.8 1940.4,3901.1 1948.0,3920.8 1953.6,3940.9 1957.1,3958.2 1959.9,3979.0 1960.3,4000.0 1958.3,4021.3 1940.8,4174.3 1936.2,4196.8 1929.1,4219.3 1919.5,4241.8 1907.3,4264.3 1892.5,4286.5 1875.0,4308.5 1854.9,4330.2 1832.1,4351.4 1806.7,4372.1 1778.6,4392.2 1748.0,4411.6 1714.9,4430.2 1679.5,4447.8 1641.6,4464.4 1601.6,4480.0 1559.6,4494.4 1515.6,4507.5 1469.8,4519.2 1422.5,4529.6 1373.8,4538.4 1324.0,4545.8 1273.2,4551.5 1221.7,4555.7 1169.7,4558.1 1117.5,4559.0 1065.3,4558.1 1013.3,4555.7 961.8,4551.5 911.0,4545.8 861.2,4538.4 812.5,4529.6 765.2,4519.2 719.4,4507.5 675.4,4494.4 633.4,4480.0 593.4,4464.4 555.5,4447.8 520.1,4430.2 487.0,4411.6 456.4,4392.2 428.3,4372.1 402.9,4351.4 380.1,4330.2 360.0,4308.5 342.5,4286.5 327.7,4264.3 315.5,4241.8 305.9,4219.3 298.8,4196.8 294.2,4174.3 276.7,4021.3" transform="translate(-14.59,-65.39) scale(1.0131,1.0227)"/>
</g>
<polygon points="274.7,4000.0 275.1,3979.0 277.9,3958.2 281.4,3940.9 287.0,3920.8 294.6,3901.1 304.3,3881.8 316.0,3862.9 329.5,3844.5 344.8,3826.6 361.8,3809.3 380.4,3792.5 400.6,3776.3 422.2,3760.6 445.2,3745.6 469.4,3731.3 494.9,3717.5 521.5,3704.5 549.1,3692.1 577.7,3680.4 607.3,3669.4 637.6,3659.0 668.8,3649.4 700.7,3640.5 733.2,3632.2 766.3,3624.7 799.9,3617.9 834.1,3611.8 868.6,3606.4 903.5,3601.8 938.7,3597.8 974.1,3594.6 1009.8,3592.1 1045.6,3590.3 1081.5,3589.2 1117.5,3588.9 1153.5,3589.2 1189.4,3590.3 1225.2,3592.1 1260.9,3594.6 1296.3,3597.8 1331.5,3601.8 1366.4,3606.4 1400.9,3611.8 1435.1,3617.9 1468.7,3624.7 1501.8,3632.2 1534.3,3640.5 1566.2,3649.4 1597.4,3659.0 1627.7,3669.4 1657.3,3680.4 1685.9,3692.1 1713.5,3704.5 1740.1,3717.5 1765.6,3731.3 1789.8,3745.6 1812.8,3760.6 1834.4,3776.3 1854.6,3792.5 1873.2,3809.3 1890.2,3826.6 1905.5,3844.5 1919.0,3862.9 1930.7,3881.8 1940.4,3901.1 1948.0,3920.8 1953.6,3940.9 1957.1,3958.2 1959.9,3979.0 1960.3,4000.0 1958.3,4021.3 1940.8,4174.3 1936.2,4196.8 1929.1,4219.3 1919.5,4241.8 1907.3,4264.3 1892.5,4286.5 1875.0,4308.5 1854.9,4330.2 1832.1,4351.4 1806.7,4372.1 1778.6,4392.2 1748.0,4411.6 1714.9,4430.2 1679.5,4447.8 1641.6,4464.4 1601.6,4480.0 1559.6,4494.4 1515.6,4507.5 1469.8,4519.2 1422.5,4529.6 1373.8,4538.4 1324.0,4545.8 1273.2,4551.5 1221.7,4555.7 1169.7,4558.1 1117.5,4559.0 1065.3,4558.1 1013.3,4555.7 961.8,4551.5 911.0,4545.8 861.2,4538.4 812.5,4529.6 765.2,4519.2 719.4,4507.5 675.4,4494.4 633.4,4480.0 593.4,4464.4 555.5,4447.8 520.1,4430.2 487.0,4411.6 456.4,4392.2 428.3,4372.1 402.9,4351.4 380.1,4330.2 360.0,4308.5 342.5,4286.5 327.7,4264.3 315.5,4241.8 305.9,4219.3 298.8,4196.8 294.2,4174.3 276.7,4021.3" fill="url(#wall)"/>
<polygon points="301.0,4073.7 316.1,4243.0 116.1,4303.0 0.0,4243.0 0.0,3773.7 301.0,3773.7" fill="#8c8c8c" clip-path="url(#hullc)"/>
<polygon points="1117.5,3906.0 1117.5,3588.9 1135.6,3588.9 1153.7,3589.2 1171.8,3589.7 1189.9,3590.3 1208.0,3591.1 1226.0,3592.1 1244.0,3593.3 1261.9,3594.7 1279.8,3596.2 1297.6,3598.0 1315.4,3599.9 1333.1,3602.0 1350.7,3604.2 1368.2,3606.7 1385.6,3609.3 1403.0,3612.2 1420.2,3615.2 1437.3,3618.3 1454.3,3621.7 1471.1,3625.2 1487.9,3629.0 1504.5,3632.9 1520.9,3637.0 1537.2,3641.2 1553.3,3645.7 1569.2,3650.3 1585.0,3655.1 1600.5,3660.1 1615.9,3665.2 1631.0,3670.5 1646.0,3676.0 1660.7,3681.7 1675.2,3687.6 1689.4,3693.6 1703.4,3699.8 1717.1,3706.2 1730.6,3712.7 1743.7,3719.4 1756.6,3726.3 1769.2,3733.3" fill="#5b9bd5" stroke="#5b9bd5" stroke-width="0.6"/>
<polygon points="1117.5,3906.0 1769.2,3733.3 1781.5,3740.5 1793.5,3747.9 1805.1,3755.4 1816.4,3763.1 1827.4,3771.0 1837.9,3779.0 1848.2,3787.1 1858.0,3795.4 1867.4,3803.9 1876.5,3812.5 1885.1,3821.2 1893.3,3830.1 1901.1,3839.1 1908.4,3848.2 1915.2,3857.5 1921.6,3866.8 1927.5,3876.3 1933.0,3886.0 1937.9,3895.7 1942.3,3905.5 1946.2,3915.4 1949.5,3925.4 1952.3,3935.6 1954.6,3945.7 1956.3,3956.0 1957.4,3966.3 1957.9,3976.7 1957.8,3987.2 1957.2,3997.7 1955.9,4008.2 1954.0,4018.8 1951.5,4029.4 1948.3,4040.0 1944.5,4050.7 1940.0,4061.3 1934.9,4071.9 1929.2,4082.5 1922.7,4093.1 1915.6,4103.6 1907.9,4114.1 1899.4,4124.6 1890.3,4134.9 1880.5,4145.2 1870.0,4155.4 1858.8,4165.5 1847.0,4175.5 1834.4,4185.4 1821.3,4195.1 1807.4,4204.7 1792.9,4214.1 1777.7,4223.4 1761.9,4232.5 1745.4,4241.4 1728.3,4250.1 1710.6,4258.5 1692.3,4266.8 1673.4,4274.8 1653.9,4282.6 1633.8,4290.1 1613.2,4297.4 1592.0,4304.3 1570.4,4311.0 1548.2,4317.4 1525.6,4323.5 1502.5,4329.2 1479.0,4334.7 1455.1,4339.8 1430.8,4344.5 1406.2,4348.9 1381.2,4353.0 1355.9,4356.7 1330.4,4360.0 1304.6,4363.0 1278.6,4365.5 1252.4,4367.7 1226.0,4369.5 1199.6,4370.9 1173.0,4371.9 1146.3,4372.6 1119.7,4372.8 1093.0,4372.6 1066.3,4372.1 1039.8,4371.1 1013.3,4369.8 986.9,4368.0 960.7,4365.9 934.6,4363.4 908.8,4360.5 883.2,4357.3 857.9,4353.6 832.9,4349.6 808.2,4345.3 783.8,4340.6 759.8,4335.5 736.3,4330.1 713.1,4324.4 690.4,4318.4 668.2,4312.1 646.4,4305.4 625.2,4298.5 604.5,4291.3 584.4,4283.8 564.8,4276.1 545.8,4268.1 527.3,4259.9 509.5,4251.5 492.3,4242.8 475.8,4233.9 459.8,4224.9 444.5,4215.6 429.9,4206.2 416.0,4196.7 402.7,4187.0 390.0,4177.1 378.1,4167.1 366.8,4157.1 356.2,4146.9 346.3,4136.6 337.0,4126.3 328.5,4115.8 320.6,4105.4 313.4,4094.8 306.8,4084.3 301.0,4073.7" fill="#ea7c30" stroke="#ea7c30" stroke-width="0.6"/>
<polygon points="1117.5,3906.0 301.0,4073.7 295.8,4063.2 291.3,4052.7 287.4,4042.2 284.1,4031.7 281.5,4021.2 279.5,4010.7 278.1,4000.3 277.3,3989.9 277.0,3979.6 277.4,3969.3 278.3,3959.0 279.8,3948.9 281.9,3938.8 284.5,3928.8 287.6,3918.8 291.3,3909.0 295.4,3899.2 300.1,3889.6 305.3,3880.1 310.9,3870.6" fill="#a5a5a5" stroke="#a5a5a5" stroke-width="0.6"/>
<polygon points="1117.5,3906.0 310.9,3870.6 317.1,3861.3 323.7,3852.0 330.8,3842.9 338.3,3833.9 346.3,3825.0 354.7,3816.3 363.5,3807.7 372.7,3799.2 382.3,3790.9 392.2,3782.8 402.6,3774.7 413.3,3766.9 424.3,3759.2 435.7,3751.6 447.5,3744.2 459.5,3737.0 471.9,3729.9 484.5,3723.0 497.5,3716.2" fill="#ffc000" stroke="#ffc000" stroke-width="0.6"/>
<polygon points="1117.5,3906.0 497.5,3716.2 509.4,3710.3 521.5,3704.5 533.8,3698.8 546.3,3693.3 559.0,3687.9" fill="#4472c4" stroke="#4472c4" stroke-width="0.6"/>
<polygon points="1117.5,3906.0 559.0,3687.9 562.1,3686.6 565.2,3685.4" fill="#70ad47" stroke="#70ad47" stroke-width="0.6"/>
<polygon points="1117.5,3906.0 565.2,3685.4 577.2,3680.6 589.3,3675.9 601.6,3671.4 614.0,3667.0 626.5,3662.7" fill="#255e91" stroke="#255e91" stroke-width="0.6"/>
<polygon points="1117.5,3906.0 626.5,3662.7 641.3,3657.8 656.3,3653.2 671.4,3648.6 686.7,3644.3 702.2,3640.1 717.8,3636.0 733.6,3632.1 749.4,3628.4 765.5,3624.9 781.6,3621.5 797.9,3618.3 814.3,3615.3" fill="#9e480e" stroke="#9e480e" stroke-width="0.6"/>
<polygon points="1117.5,3906.0 814.3,3615.3 819.4,3614.3 824.6,3613.4" fill="#636363" stroke="#636363" stroke-width="0.6"/>
<polygon points="1117.5,3906.0 824.6,3613.4 841.1,3610.7 857.7,3608.1 874.3,3605.6 891.1,3603.3 907.9,3601.2 924.8,3599.3 941.8,3597.5 958.8,3595.9 975.9,3594.5 993.0,3593.2 1010.2,3592.1 1027.3,3591.1 1044.6,3590.3 1061.8,3589.7" fill="#997300" stroke="#997300" stroke-width="0.6"/>
<polygon points="1117.5,3906.0 1061.8,3589.7 1069.6,3589.5 1077.5,3589.3" fill="#264478" stroke="#264478" stroke-width="0.6"/>
<polygon points="1117.5,3906.0 1077.5,3589.3 1083.8,3589.2 1090.1,3589.1" fill="#43682b" stroke="#43682b" stroke-width="0.6"/>
<polygon points="1117.5,3906.0 1090.1,3589.1 1096.2,3589.0 1102.3,3588.9" fill="#7cafdd" stroke="#7cafdd" stroke-width="0.6"/>
<polygon points="1117.5,3906.0 1102.3,3588.9 1109.9,3588.9 1117.5,3588.9" fill="#f1975a" stroke="#f1975a" stroke-width="0.6"/>
<polygon points="302.0,4074.7 274.5,4062.0 255.0,4050.0 255.0,3940.0 302.0,3940.0" fill="#b4b4b4" clip-path="url(#hullc)"/>
<polyline points="1923.2,3928.6 1924.6,3934.2 1925.9,3939.8 1927.0,3945.5 1927.9,3951.2 1928.6,3956.9" fill="none" stroke="url(#bv0)" stroke-width="3.457142857142859" stroke-opacity="0.25"/>
<polyline points="1928.3,3954.9 1928.9,3960.6 1929.3,3966.3 1929.6,3972.1 1929.6,3977.9 1929.4,3983.7" fill="none" stroke="url(#bv0)" stroke-width="3.457142857142859" stroke-opacity="0.5"/>
<polyline points="1929.5,3981.6 1929.2,3987.4 1928.7,3993.3 1928.1,3999.1 1927.2,4004.9 1926.1,4010.8" fill="none" stroke="url(#bv0)" stroke-width="3.457142857142859" stroke-opacity="0.75"/>
<polyline points="1926.5,4008.7 1923.5,4022.2 1919.4,4035.7 1914.2,4049.2 1907.9,4062.7 1900.6,4076.1 1892.1,4089.5 1882.5,4102.8 1871.8,4116.1 1859.9,4129.2 1846.9,4142.2 1832.8,4155.0 1817.6,4167.6 1801.2,4180.0 1783.7,4192.2 1765.2,4204.1 1745.5,4215.7 1724.8,4227.0 1703.0,4238.0 1680.3,4248.6 1656.5,4258.8 1631.7,4268.7 1606.0,4278.1 1579.5,4287.0 1552.1,4295.4 1523.8,4303.4 1494.8,4310.9 1465.1,4317.8 1434.7,4324.1 1403.7,4329.9 1372.1,4335.1 1340.1,4339.7 1307.6,4343.7 1274.7,4347.0 1241.5,4349.7 1208.1,4351.8 1174.5,4353.2 1140.8,4354.0 1107.0,4354.1 1073.3,4353.6 1039.6,4352.4 1006.1,4350.6 972.8,4348.1 939.8,4345.0 907.2,4341.3 875.0,4336.9 843.2,4331.9 812.0,4326.4 781.4,4320.2 751.4,4313.5 722.1,4306.3 693.6,4298.5 665.8,4290.3 638.9,4281.5 612.9,4272.3 587.8,4262.6 563.6,4252.5 540.5,4242.1 518.3,4231.2 497.2,4220.0 477.1,4208.5 458.2,4196.7 440.3,4184.6 423.5,4172.3 407.8,4159.8 393.3,4147.0 379.9,4134.1 367.6,4121.1 356.4,4107.9 346.4,4094.6 337.5,4081.2 329.7,4067.8" fill="none" stroke="url(#bv0)" stroke-width="3.457142857142859"/>
<polyline points="329.7,4067.8 323.0,4054.3 317.5,4040.8 313.0,4027.3 309.5,4013.9 307.1,4000.4 305.8,3987.1 305.4,3973.8 306.1,3960.6 307.7,3947.5 310.3,3934.5 313.8,3921.6 318.2,3908.9 323.5,3896.4 329.7,3884.0 336.8,3871.8" fill="none" stroke="#a7a7a7" stroke-width="3.457142857142859"/>
<polyline points="1923.6,3922.2 1925.3,3927.8 1926.7,3933.5 1928.0,3939.1 1929.1,3944.8 1930.1,3950.5" fill="none" stroke="url(#bv1)" stroke-width="3.457142857142859" stroke-opacity="0.25"/>
<polyline points="1929.8,3948.5 1930.6,3954.2 1931.2,3959.9 1931.6,3965.7 1931.9,3971.5 1932.0,3977.3" fill="none" stroke="url(#bv1)" stroke-width="3.457142857142859" stroke-opacity="0.5"/>
<polyline points="1932.0,3975.2 1931.9,3981.0 1931.7,3986.9 1931.2,3992.7 1930.6,3998.5 1929.7,4004.4" fill="none" stroke="url(#bv1)" stroke-width="3.457142857142859" stroke-opacity="0.75"/>
<polyline points="1930.1,4002.3 1927.5,4015.9 1923.9,4029.5 1919.3,4043.2 1913.5,4056.8 1906.6,4070.4 1898.5,4084.0 1889.4,4097.5 1879.1,4110.9 1867.6,4124.2 1855.0,4137.4 1841.3,4150.4 1826.4,4163.3 1810.3,4175.9 1793.1,4188.3 1774.8,4200.4 1755.4,4212.3 1734.9,4223.9 1713.3,4235.1 1690.7,4246.0 1667.0,4256.5 1642.4,4266.5 1616.8,4276.2 1590.2,4285.4 1562.8,4294.1 1534.6,4302.3 1505.5,4310.0 1475.7,4317.2 1445.2,4323.8 1414.0,4329.8 1382.3,4335.2 1350.1,4340.1 1317.3,4344.3 1284.2,4347.8 1250.8,4350.7 1217.0,4353.0 1183.1,4354.6 1149.1,4355.6 1114.9,4355.9 1080.8,4355.5 1046.8,4354.4 1012.9,4352.7 979.2,4350.3 945.8,4347.3 912.7,4343.7 880.1,4339.4 847.9,4334.5 816.3,4328.9 785.2,4322.8 754.8,4316.2 725.1,4308.9 696.2,4301.1 668.0,4292.8 640.7,4284.0 614.3,4274.8 588.9,4265.1 564.4,4254.9 540.8,4244.4 518.4,4233.4 496.9,4222.2 476.6,4210.6 457.4,4198.6 439.2,4186.5 422.2,4174.0 406.3,4161.4 391.6,4148.5 378.0,4135.4 365.6,4122.2 354.3,4108.9 344.2,4095.5 335.2,4082.0 327.3,4068.4" fill="none" stroke="url(#bv1)" stroke-width="3.457142857142859"/>
<polyline points="327.3,4068.4 320.6,4054.9 315.1,4041.3 310.5,4027.8 307.1,4014.3 304.7,4000.8 303.4,3987.4 303.1,3974.1 303.7,3960.8 305.4,3947.7 308.0,3934.7 311.5,3921.8 316.0,3909.0 321.3,3896.5 327.5,3884.0 334.6,3871.8" fill="none" stroke="#ababab" stroke-width="3.457142857142859"/>
<polyline points="1923.7,3916.0 1925.6,3921.6 1927.3,3927.2 1928.8,3932.9 1930.1,3938.5 1931.3,3944.2" fill="none" stroke="url(#bv2)" stroke-width="3.457142857142859" stroke-opacity="0.25"/>
<polyline points="1930.9,3942.2 1931.9,3947.9 1932.8,3953.7 1933.4,3959.4 1933.9,3965.2 1934.2,3971.0" fill="none" stroke="url(#bv2)" stroke-width="3.457142857142859" stroke-opacity="0.5"/>
<polyline points="1934.1,3968.9 1934.3,3974.7 1934.3,3980.6 1934.1,3986.4 1933.7,3992.2 1933.1,3998.1" fill="none" stroke="url(#bv2)" stroke-width="3.457142857142859" stroke-opacity="0.75"/>
<polyline points="1933.3,3996.0 1931.3,4009.5 1928.3,4023.1 1924.2,4036.7 1919.1,4050.3 1912.8,4063.8 1905.4,4077.4 1896.9,4090.9 1887.3,4104.3 1876.6,4117.6 1864.7,4130.8 1851.6,4143.9 1837.5,4156.8 1822.2,4169.5 1805.7,4182.0 1788.2,4194.3 1769.5,4206.3 1749.8,4218.0 1729.0,4229.4 1707.1,4240.5 1684.2,4251.2 1660.2,4261.5 1635.4,4271.4 1609.5,4280.9 1582.8,4289.9 1555.2,4298.4 1526.8,4306.5 1497.6,4314.0 1467.7,4320.9 1437.1,4327.3 1405.9,4333.2 1374.1,4338.4 1341.8,4343.0 1309.1,4347.1 1276.0,4350.4 1242.6,4353.2 1208.9,4355.3 1175.1,4356.7 1141.1,4357.5 1107.1,4357.7 1073.1,4357.1 1039.2,4355.9 1005.5,4354.1 972.0,4351.6 938.8,4348.5 905.9,4344.7 873.4,4340.3 841.5,4335.3 810.0,4329.7 779.2,4323.5 749.0,4316.7 719.5,4309.4 690.8,4301.6 662.9,4293.3 635.8,4284.5 609.6,4275.2 584.4,4265.4 560.0,4255.3 536.7,4244.7 514.5,4233.8 493.2,4222.5 473.0,4210.9 453.9,4199.0 436.0,4186.9 419.1,4174.4 403.4,4161.8 388.7,4149.0 375.3,4136.0 362.9,4122.8 351.7,4109.5 341.7,4096.1 332.8,4082.7 324.9,4069.1" fill="none" stroke="url(#bv2)" stroke-width="3.457142857142859"/>
<polyline points="324.9,4069.1 318.3,4055.6 312.7,4042.0 308.2,4028.4 304.7,4014.9 302.4,4001.4 301.0,3987.9 300.7,3974.5 301.4,3961.2 303.1,3948.1 305.7,3935.0 309.3,3922.1 313.7,3909.3 319.1,3896.7 325.4,3884.2 332.5,3871.9" fill="none" stroke="#afafaf" stroke-width="3.457142857142859"/>
<polyline points="1923.6,3909.9 1925.7,3915.5 1927.6,3921.1 1929.3,3926.7 1930.8,3932.4 1932.2,3938.1" fill="none" stroke="url(#bv3)" stroke-width="3.457142857142859" stroke-opacity="0.25"/>
<polyline points="1931.7,3936.1 1933.0,3941.8 1934.1,3947.5 1934.9,3953.2 1935.7,3959.0 1936.2,3964.8" fill="none" stroke="url(#bv3)" stroke-width="3.457142857142859" stroke-opacity="0.5"/>
<polyline points="1936.0,3962.7 1936.4,3968.5 1936.6,3974.4 1936.6,3980.2 1936.5,3986.0 1936.1,3991.9" fill="none" stroke="url(#bv3)" stroke-width="3.457142857142859" stroke-opacity="0.75"/>
<polyline points="1936.2,3989.8 1934.8,4003.5 1932.3,4017.1 1928.7,4030.8 1924.0,4044.6 1918.3,4058.3 1911.4,4072.0 1903.3,4085.7 1894.1,4099.3 1883.8,4112.8 1872.3,4126.2 1859.7,4139.4 1845.8,4152.6 1830.9,4165.5 1814.8,4178.2 1797.5,4190.7 1779.1,4203.0 1759.6,4214.9 1739.0,4226.6 1717.3,4237.9 1694.5,4248.8 1670.7,4259.4 1645.9,4269.6 1620.2,4279.3 1593.5,4288.6 1565.9,4297.4 1537.4,4305.7 1508.2,4313.4 1478.2,4320.6 1447.5,4327.3 1416.1,4333.4 1384.2,4338.8 1351.7,4343.7 1318.8,4347.9 1285.4,4351.5 1251.8,4354.5 1217.8,4356.8 1183.7,4358.4 1149.4,4359.4 1115.0,4359.7 1080.7,4359.3 1046.4,4358.2 1012.2,4356.5 978.3,4354.1 944.7,4351.1 911.4,4347.4 878.5,4343.0 846.1,4338.1 814.3,4332.5 783.0,4326.4 752.4,4319.6 722.5,4312.3 693.4,4304.5 665.1,4296.1 637.6,4287.3 611.0,4277.9 585.4,4268.1 560.8,4257.9 537.1,4247.3 514.5,4236.3 493.0,4224.9 472.5,4213.2 453.1,4201.2 434.9,4188.9 417.8,4176.4 401.9,4163.6 387.1,4150.7 373.4,4137.5 361.0,4124.2 349.6,4110.8 339.5,4097.3 330.4,4083.7 322.6,4070.0" fill="none" stroke="url(#bv3)" stroke-width="3.457142857142859"/>
<polyline points="322.6,4070.0 315.9,4056.4 310.3,4042.8 305.8,4029.2 302.4,4015.6 300.0,4002.0 298.7,3988.5 298.4,3975.1 299.1,3961.8 300.8,3948.5 303.4,3935.4 307.0,3922.5 311.5,3909.6 316.9,3897.0 323.2,3884.5 330.3,3872.2" fill="none" stroke="#b3b3b3" stroke-width="3.457142857142859"/>
<polyline points="1923.2,3904.0 1925.5,3909.5 1927.6,3915.1 1929.5,3920.7 1931.3,3926.3 1932.8,3932.0" fill="none" stroke="url(#bv4)" stroke-width="3.457142857142859" stroke-opacity="0.25"/>
<polyline points="1932.3,3930.0 1933.8,3935.7 1935.1,3941.4 1936.2,3947.1 1937.1,3952.9 1937.9,3958.7" fill="none" stroke="url(#bv4)" stroke-width="3.457142857142859" stroke-opacity="0.5"/>
<polyline points="1937.6,3956.7 1938.2,3962.4 1938.7,3968.3 1938.9,3974.1 1939.0,3979.9 1938.8,3985.8" fill="none" stroke="url(#bv4)" stroke-width="3.457142857142859" stroke-opacity="0.75"/>
<polyline points="1938.9,3983.7 1938.0,3997.3 1936.1,4010.9 1933.1,4024.5 1929.0,4038.2 1923.9,4051.9 1917.6,4065.5 1910.2,4079.2 1901.7,4092.8 1892.1,4106.3 1881.3,4119.7 1869.4,4133.0 1856.3,4146.2 1842.1,4159.2 1826.7,4172.0 1810.2,4184.6 1792.6,4197.0 1773.9,4209.1 1754.0,4220.9 1733.1,4232.4 1711.1,4243.5 1688.0,4254.3 1664.0,4264.7 1638.9,4274.7 1613.0,4284.2 1586.1,4293.3 1558.3,4301.9 1529.7,4310.0 1500.3,4317.6 1470.2,4324.7 1439.4,4331.1 1408.0,4337.0 1376.0,4342.3 1343.5,4347.0 1310.6,4351.0 1277.3,4354.4 1243.6,4357.2 1209.7,4359.3 1175.7,4360.8 1141.5,4361.6 1107.2,4361.7 1073.0,4361.2 1038.9,4360.0 1004.9,4358.1 971.2,4355.6 937.7,4352.5 904.6,4348.7 871.9,4344.2 839.7,4339.2 808.1,4333.5 777.0,4327.3 746.7,4320.5 717.0,4313.1 688.1,4305.3 660.0,4296.8 632.7,4287.9 606.4,4278.6 580.9,4268.8 556.5,4258.5 533.0,4247.9 510.6,4236.9 489.3,4225.5 469.0,4213.8 449.8,4201.8 431.7,4189.6 414.7,4177.1 398.9,4164.3 384.2,4151.4 370.7,4138.3 358.3,4125.0 347.1,4111.7 337.0,4098.2 328.0,4084.6 320.2,4071.0" fill="none" stroke="url(#bv4)" stroke-width="3.457142857142859"/>
<polyline points="320.2,4071.0 313.5,4057.3 307.9,4043.7 303.4,4030.0 300.0,4016.4 297.6,4002.8 296.3,3989.2 296.0,3975.8 296.8,3962.4 298.5,3949.1 301.1,3936.0 304.8,3923.0 309.3,3910.1 314.7,3897.4 321.0,3884.9 328.2,3872.6" fill="none" stroke="#b7b7b7" stroke-width="3.457142857142859"/>
<polyline points="1922.5,3898.1 1925.0,3903.7 1927.3,3909.2 1929.4,3914.8 1931.4,3920.4 1933.2,3926.1" fill="none" stroke="url(#bv5)" stroke-width="3.457142857142859" stroke-opacity="0.25"/>
<polyline points="1932.6,3924.1 1934.3,3929.8 1935.8,3935.4 1937.1,3941.2 1938.3,3946.9 1939.2,3952.7" fill="none" stroke="url(#bv5)" stroke-width="3.457142857142859" stroke-opacity="0.5"/>
<polyline points="1938.9,3950.7 1939.8,3956.5 1940.4,3962.3 1940.9,3968.1 1941.2,3973.9 1941.3,3979.8" fill="none" stroke="url(#bv5)" stroke-width="3.457142857142859" stroke-opacity="0.75"/>
<polyline points="1941.3,3977.7 1940.9,3991.4 1939.5,4005.1 1937.0,4018.8 1933.5,4032.6 1928.8,4046.4 1923.0,4060.3 1916.1,4074.1 1908.0,4087.8 1898.8,4101.5 1888.5,4115.1 1876.9,4128.6 1864.2,4142.0 1850.4,4155.2 1835.4,4168.2 1819.2,4181.1 1801.8,4193.7 1783.3,4206.0 1763.7,4218.1 1743.0,4229.8 1721.2,4241.2 1698.3,4252.3 1674.4,4262.9 1649.4,4273.2 1623.5,4283.0 1596.7,4292.3 1568.9,4301.2 1540.3,4309.5 1510.8,4317.4 1480.7,4324.7 1449.8,4331.4 1418.2,4337.5 1386.1,4343.0 1353.4,4347.9 1320.2,4352.2 1286.6,4355.8 1252.7,4358.8 1218.6,4361.1 1184.2,4362.7 1149.6,4363.7 1115.1,4364.0 1080.5,4363.6 1046.0,4362.6 1011.6,4360.8 977.5,4358.4 943.6,4355.3 910.1,4351.6 877.0,4347.3 844.4,4342.3 812.3,4336.7 780.8,4330.5 750.0,4323.7 720.0,4316.3 690.6,4308.4 662.1,4300.0 634.5,4291.0 607.8,4281.6 582.0,4271.7 557.2,4261.4 533.4,4250.7 510.7,4239.6 489.0,4228.2 468.4,4216.4 449.0,4204.3 430.7,4191.9 413.5,4179.3 397.5,4166.4 382.6,4153.4 368.9,4140.1 356.4,4126.7 345.0,4113.2 334.8,4099.6 325.8,4085.9 317.9,4072.1" fill="none" stroke="url(#bv5)" stroke-width="3.457142857142859"/>
<polyline points="317.9,4072.1 311.2,4058.4 305.6,4044.7 301.1,4031.0 297.7,4017.3 295.3,4003.7 294.0,3990.1 293.7,3976.6 294.5,3963.2 296.2,3949.9 298.9,3936.7 302.5,3923.6 307.1,3910.7 312.6,3898.0 318.9,3885.4 326.1,3873.0" fill="none" stroke="#bbbbbb" stroke-width="3.457142857142859"/>
<polyline points="1921.5,3892.4 1924.2,3897.9 1926.8,3903.4 1929.1,3909.0 1931.3,3914.6 1933.3,3920.2" fill="none" stroke="url(#bv6)" stroke-width="3.457142857142859" stroke-opacity="0.25"/>
<polyline points="1932.6,3918.3 1934.5,3923.9 1936.3,3929.6 1937.8,3935.3 1939.2,3941.0 1940.4,3946.8" fill="none" stroke="url(#bv6)" stroke-width="3.457142857142859" stroke-opacity="0.5"/>
<polyline points="1940.0,3944.8 1941.0,3950.6 1941.9,3956.4 1942.6,3962.2 1943.1,3968.0 1943.5,3973.9" fill="none" stroke="url(#bv6)" stroke-width="3.457142857142859" stroke-opacity="0.75"/>
<polyline points="1943.4,3971.8 1943.5,3985.4 1942.7,3999.0 1940.8,4012.7 1937.8,4026.4 1933.8,4040.2 1928.6,4053.9 1922.4,4067.7 1915.0,4081.4 1906.5,4095.1 1896.8,4108.8 1886.0,4122.3 1874.0,4135.7 1860.9,4149.0 1846.7,4162.1 1831.2,4175.0 1814.7,4187.7 1797.0,4200.1 1778.1,4212.3 1758.2,4224.2 1737.1,4235.8 1715.0,4247.1 1691.9,4258.0 1667.7,4268.5 1642.5,4278.5 1616.4,4288.2 1589.3,4297.3 1561.4,4306.0 1532.6,4314.2 1503.0,4321.8 1472.7,4328.9 1441.8,4335.4 1410.1,4341.4 1377.9,4346.7 1345.2,4351.4 1312.1,4355.5 1278.5,4359.0 1244.7,4361.8 1210.6,4363.9 1176.2,4365.4 1141.8,4366.2 1107.3,4366.4 1072.9,4365.8 1038.5,4364.6 1004.3,4362.8 970.3,4360.2 936.7,4357.0 903.3,4353.2 870.4,4348.7 838.0,4343.7 806.2,4338.0 774.9,4331.7 744.3,4324.8 714.5,4317.4 685.4,4309.4 657.1,4301.0 629.7,4292.0 603.1,4282.5 577.6,4272.6 553.0,4262.3 529.4,4251.6 506.8,4240.5 485.3,4229.0 464.9,4217.3 445.6,4205.2 427.5,4192.8 410.4,4180.2 394.5,4167.4 379.8,4154.4 366.2,4141.2 353.8,4127.8 342.5,4114.3 332.4,4100.7 323.4,4087.1 315.5,4073.4" fill="none" stroke="url(#bv6)" stroke-width="3.457142857142859"/>
<polyline points="315.5,4073.4 308.8,4059.6 303.2,4045.9 298.7,4032.1 295.3,4018.4 293.0,4004.7 291.7,3991.1 291.4,3977.5 292.2,3964.0 293.9,3950.7 296.7,3937.5 300.3,3924.4 304.9,3911.4 310.4,3898.7 316.8,3886.1 324.0,3873.6" fill="none" stroke="#bbbbbb" stroke-width="3.457142857142859"/>
<polyline points="1920.3,3886.8 1923.2,3892.3 1925.9,3897.8 1928.5,3903.3 1930.9,3908.9 1933.1,3914.5" fill="none" stroke="url(#bv7)" stroke-width="3.457142857142859" stroke-opacity="0.25"/>
<polyline points="1932.4,3912.6 1934.5,3918.2 1936.4,3923.9 1938.2,3929.6 1939.8,3935.3 1941.2,3941.0" fill="none" stroke="url(#bv7)" stroke-width="3.457142857142859" stroke-opacity="0.5"/>
<polyline points="1940.7,3939.0 1942.0,3944.8 1943.1,3950.6 1944.0,3956.4 1944.8,3962.2 1945.3,3968.1" fill="none" stroke="url(#bv7)" stroke-width="3.457142857142859" stroke-opacity="0.75"/>
<polyline points="1945.2,3966.0 1945.9,3979.7 1945.5,3993.4 1944.1,4007.2 1941.7,4021.0 1938.1,4034.9 1933.5,4048.8 1927.7,4062.7 1920.8,4076.6 1912.7,4090.5 1903.5,4104.3 1893.1,4118.0 1881.5,4131.6 1868.8,4145.1 1854.9,4158.4 1839.8,4171.5 1823.5,4184.4 1806.1,4197.1 1787.5,4209.6 1767.8,4221.7 1747.0,4233.6 1725.0,4245.1 1702.0,4256.2 1678.0,4266.9 1652.9,4277.3 1626.8,4287.2 1599.8,4296.6 1571.9,4305.5 1543.1,4314.0 1513.5,4321.9 1483.1,4329.2 1452.0,4336.0 1420.3,4342.2 1387.9,4347.7 1355.0,4352.7 1321.6,4357.0 1287.8,4360.6 1253.7,4363.6 1219.3,4366.0 1184.7,4367.6 1149.9,4368.6 1115.1,4368.9 1080.3,4368.5 1045.6,4367.4 1011.0,4365.7 976.6,4363.3 942.5,4360.2 908.8,4356.4 875.5,4352.0 842.6,4347.0 810.4,4341.3 778.7,4335.1 747.7,4328.2 717.4,4320.8 687.9,4312.8 659.2,4304.3 631.4,4295.3 604.5,4285.8 578.6,4275.9 553.7,4265.5 529.7,4254.7 506.9,4243.5 485.1,4232.0 464.4,4220.1 444.9,4207.9 426.5,4195.4 409.2,4182.7 393.1,4169.7 378.2,4156.6 364.4,4143.2 351.8,4129.7 340.4,4116.1 330.2,4102.4 321.1,4088.6 313.2,4074.7" fill="none" stroke="url(#bv7)" stroke-width="3.457142857142859"/>
<polyline points="313.2,4074.7 306.5,4060.9 300.9,4047.1 296.4,4033.3 293.0,4019.6 290.7,4005.8 289.4,3992.1 289.2,3978.5 289.9,3965.0 291.7,3951.7 294.4,3938.4 298.1,3925.3 302.7,3912.3 308.3,3899.5 314.7,3886.8 321.9,3874.4" fill="none" stroke="#bbbbbb" stroke-width="3.457142857142859"/>
<polyline points="1918.8,3881.3 1921.9,3886.8 1924.9,3892.3 1927.6,3897.8 1930.2,3903.4 1932.7,3909.0" fill="none" stroke="url(#bv8)" stroke-width="3.457142857142859" stroke-opacity="0.25"/>
<polyline points="1931.8,3907.0 1934.2,3912.6 1936.3,3918.3 1938.3,3923.9 1940.1,3929.6 1941.7,3935.4" fill="none" stroke="url(#bv8)" stroke-width="3.457142857142859" stroke-opacity="0.5"/>
<polyline points="1941.2,3933.4 1942.7,3939.1 1944.0,3944.9 1945.2,3950.7 1946.1,3956.5 1946.9,3962.4" fill="none" stroke="url(#bv8)" stroke-width="3.457142857142859" stroke-opacity="0.75"/>
<polyline points="1946.7,3960.3 1947.9,3973.9 1948.1,3987.5 1947.3,4001.2 1945.4,4015.0 1942.5,4028.8 1938.4,4042.7 1933.3,4056.5 1927.1,4070.4 1919.7,4084.2 1911.2,4098.0 1901.5,4111.7 1890.7,4125.4 1878.7,4138.9 1865.5,4152.3 1851.2,4165.5 1835.7,4178.5 1819.1,4191.3 1801.3,4203.8 1782.3,4216.1 1762.3,4228.1 1741.2,4239.8 1718.9,4251.2 1695.6,4262.1 1671.3,4272.7 1646.0,4282.9 1619.7,4292.6 1592.5,4301.9 1564.4,4310.6 1535.5,4318.9 1505.7,4326.6 1475.2,4333.7 1444.1,4340.3 1412.2,4346.3 1379.8,4351.7 1346.9,4356.5 1313.6,4360.6 1279.8,4364.1 1245.7,4366.9 1211.4,4369.1 1176.8,4370.6 1142.2,4371.4 1107.5,4371.5 1072.8,4371.0 1038.2,4369.8 1003.7,4367.9 969.5,4365.4 935.6,4362.2 902.1,4358.3 869.0,4353.8 836.3,4348.7 804.3,4342.9 772.8,4336.6 742.0,4329.7 712.0,4322.2 682.7,4314.2 654.2,4305.6 626.6,4296.6 599.9,4287.0 574.2,4277.1 549.5,4266.7 525.7,4255.8 503.1,4244.6 481.5,4233.1 461.0,4221.2 441.6,4209.1 423.3,4196.6 406.2,4183.9 390.2,4171.0 375.4,4157.8 361.7,4144.5 349.3,4131.1 337.9,4117.5 327.8,4103.8 318.8,4090.0 310.9,4076.2" fill="none" stroke="url(#bv8)" stroke-width="3.457142857142859"/>
<polyline points="310.9,4076.2 304.2,4062.4 298.6,4048.5 294.1,4034.7 290.7,4020.9 288.4,4007.1 287.1,3993.4 286.9,3979.7 287.7,3966.2 289.5,3952.7 292.2,3939.4 295.9,3926.2 300.6,3913.2 306.1,3900.4 312.6,3887.7 319.9,3875.2" fill="none" stroke="#bababa" stroke-width="3.457142857142859"/>
<polyline points="1917.1,3876.0 1920.4,3881.4 1923.5,3886.9 1926.5,3892.4 1929.3,3897.9 1932.0,3903.5" fill="none" stroke="url(#bv9)" stroke-width="3.457142857142859" stroke-opacity="0.25"/>
<polyline points="1931.0,3901.5 1933.6,3907.1 1935.9,3912.8 1938.1,3918.4 1940.2,3924.1 1942.0,3929.8" fill="none" stroke="url(#bv9)" stroke-width="3.457142857142859" stroke-opacity="0.5"/>
<polyline points="1941.4,3927.8 1943.1,3933.6 1944.7,3939.3 1946.0,3945.1 1947.2,3950.9 1948.2,3956.8" fill="none" stroke="url(#bv9)" stroke-width="3.457142857142859" stroke-opacity="0.75"/>
<polyline points="1947.9,3954.7 1949.6,3968.3 1950.4,3982.1 1950.1,3995.9 1948.7,4009.7 1946.3,4023.7 1942.8,4037.7 1938.1,4051.7 1932.3,4065.7 1925.4,4079.7 1917.3,4093.7 1908.1,4107.6 1897.7,4121.4 1886.0,4135.1 1873.3,4148.7 1859.3,4162.1 1844.1,4175.3 1827.8,4188.3 1810.3,4201.1 1791.7,4213.7 1771.8,4225.9 1750.9,4237.8 1728.9,4249.4 1705.7,4260.7 1681.5,4271.5 1656.3,4281.9 1630.1,4291.9 1602.9,4301.4 1574.8,4310.4 1545.9,4318.9 1516.1,4326.9 1485.5,4334.3 1454.2,4341.1 1422.3,4347.4 1389.7,4353.0 1356.6,4358.0 1323.0,4362.3 1289.0,4366.0 1254.7,4369.1 1220.0,4371.4 1185.2,4373.1 1150.2,4374.1 1115.2,4374.4 1080.1,4374.0 1045.2,4372.9 1010.3,4371.1 975.7,4368.7 941.4,4365.6 907.5,4361.8 873.9,4357.4 840.9,4352.3 808.4,4346.6 776.6,4340.3 745.4,4333.3 714.9,4325.9 685.2,4317.8 656.4,4309.3 628.4,4300.2 601.3,4290.6 575.3,4280.6 550.2,4270.1 526.1,4259.2 503.1,4247.9 481.2,4236.3 460.4,4224.3 440.8,4212.0 422.3,4199.4 404.9,4186.6 388.8,4173.6 373.8,4160.3 360.0,4146.9 347.3,4133.3 335.9,4119.5 325.6,4105.7 316.5,4091.8 308.6,4077.8" fill="none" stroke="url(#bv9)" stroke-width="3.457142857142859"/>
<polyline points="308.6,4077.8 301.9,4064.0 296.3,4050.1 291.8,4036.2 288.4,4022.3 286.1,4008.5 284.8,3994.7 284.6,3981.0 285.4,3967.4 287.2,3953.9 290.0,3940.6 293.8,3927.4 298.4,3914.3 304.0,3901.4 310.5,3888.7 317.8,3876.2" fill="none" stroke="#b8b8b8" stroke-width="3.457142857142859"/>
<polyline points="1915.1,3870.8 1918.6,3876.2 1921.9,3881.6 1925.1,3887.1 1928.1,3892.6 1931.0,3898.1" fill="none" stroke="url(#bv10)" stroke-width="3.457142857142859" stroke-opacity="0.25"/>
<polyline points="1930.0,3896.2 1932.7,3901.8 1935.3,3907.4 1937.7,3913.0 1939.9,3918.7 1942.0,3924.4" fill="none" stroke="url(#bv10)" stroke-width="3.457142857142859" stroke-opacity="0.5"/>
<polyline points="1941.3,3922.4 1943.2,3928.1 1945.0,3933.9 1946.6,3939.7 1948.0,3945.5 1949.2,3951.3" fill="none" stroke="url(#bv10)" stroke-width="3.457142857142859" stroke-opacity="0.75"/>
<polyline points="1948.8,3949.3 1951.1,3962.8 1952.4,3976.4 1952.6,3990.1 1951.8,4003.9 1950.0,4017.8 1947.1,4031.7 1943.1,4045.6 1938.0,4059.6 1931.7,4073.6 1924.3,4087.5 1915.8,4101.4 1906.1,4115.2 1895.2,4129.0 1883.2,4142.6 1870.0,4156.1 1855.6,4169.4 1840.1,4182.5 1823.4,4195.4 1805.5,4208.1 1786.5,4220.5 1766.4,4232.6 1745.1,4244.4 1722.8,4255.8 1699.4,4266.9 1674.9,4277.5 1649.5,4287.8 1623.1,4297.6 1595.7,4306.9 1567.4,4315.8 1538.3,4324.1 1508.4,4331.9 1477.7,4339.1 1446.3,4345.7 1414.3,4351.8 1381.7,4357.2 1348.6,4362.1 1315.0,4366.2 1281.0,4369.7 1246.7,4372.6 1212.1,4374.8 1177.4,4376.3 1142.5,4377.1 1107.6,4377.3 1072.6,4376.7 1037.8,4375.5 1003.2,4373.6 968.7,4371.1 934.6,4367.8 900.8,4363.9 867.5,4359.4 834.7,4354.2 802.4,4348.4 770.7,4342.0 739.7,4335.1 709.5,4327.5 680.0,4319.4 651.4,4310.8 623.6,4301.7 596.8,4292.1 570.9,4282.0 546.0,4271.5 522.2,4260.6 499.4,4249.3 477.6,4237.7 457.0,4225.7 437.5,4213.4 419.2,4200.9 402.0,4188.1 385.9,4175.1 371.0,4161.8 357.3,4148.4 344.8,4134.9 333.4,4121.2 323.2,4107.4 314.2,4093.5 306.3,4079.6" fill="none" stroke="url(#bv10)" stroke-width="3.457142857142859"/>
<polyline points="306.3,4079.6 299.6,4065.7 294.0,4051.7 289.5,4037.8 286.1,4023.8 283.8,4010.0 282.6,3996.1 282.4,3982.4 283.2,3968.8 285.0,3955.2 287.8,3941.8 291.6,3928.6 296.3,3915.5 301.9,3902.5 308.4,3889.8 315.8,3877.2" fill="none" stroke="#b6b6b6" stroke-width="3.457142857142859"/>
<polyline points="1912.8,3865.7 1916.5,3871.0 1920.0,3876.5 1923.4,3881.9 1926.6,3887.4 1929.7,3892.9" fill="none" stroke="url(#bv11)" stroke-width="3.457142857142859" stroke-opacity="0.25"/>
<polyline points="1928.6,3891.0 1931.6,3896.5 1934.4,3902.1 1937.0,3907.7 1939.4,3913.4 1941.7,3919.1" fill="none" stroke="url(#bv11)" stroke-width="3.457142857142859" stroke-opacity="0.5"/>
<polyline points="1940.9,3917.1 1943.1,3922.8 1945.1,3928.5 1946.9,3934.3 1948.5,3940.1 1950.0,3945.9" fill="none" stroke="url(#bv11)" stroke-width="3.457142857142859" stroke-opacity="0.75"/>
<polyline points="1949.5,3943.9 1952.3,3957.4 1954.1,3971.1 1954.9,3984.9 1954.6,3998.8 1953.3,4012.8 1950.8,4026.9 1947.3,4041.0 1942.7,4055.1 1936.9,4069.2 1930.0,4083.3 1921.9,4097.3 1912.6,4111.4 1902.2,4125.3 1890.5,4139.1 1877.7,4152.8 1863.7,4166.3 1848.5,4179.6 1832.1,4192.7 1814.5,4205.6 1795.7,4218.3 1775.8,4230.6 1754.8,4242.7 1732.6,4254.3 1709.4,4265.7 1685.1,4276.6 1659.7,4287.1 1633.4,4297.2 1606.0,4306.8 1577.8,4315.9 1548.6,4324.4 1518.7,4332.5 1487.9,4339.9 1456.4,4346.8 1424.3,4353.1 1391.5,4358.8 1358.2,4363.8 1324.4,4368.2 1290.2,4372.0 1255.6,4375.0 1220.8,4377.4 1185.7,4379.1 1150.5,4380.1 1115.2,4380.4 1079.9,4380.0 1044.8,4378.9 1009.7,4377.1 974.9,4374.7 940.4,4371.5 906.2,4367.7 872.4,4363.2 839.2,4358.1 806.5,4352.4 774.4,4346.0 743.1,4339.0 712.4,4331.5 682.5,4323.4 653.5,4314.7 625.4,4305.5 598.2,4295.9 571.9,4285.8 546.7,4275.2 522.5,4264.2 499.4,4252.9 477.4,4241.1 456.5,4229.0 436.8,4216.7 418.2,4204.0 400.7,4191.1 384.5,4177.9 369.4,4164.5 355.6,4151.0 342.9,4137.3 331.4,4123.5 321.1,4109.5 312.0,4095.5 304.1,4081.5" fill="none" stroke="url(#bv11)" stroke-width="3.457142857142859"/>
<polyline points="304.1,4081.5 297.3,4067.5 291.7,4053.5 287.3,4039.5 283.9,4025.5 281.6,4011.6 280.4,3997.7 280.2,3983.9 281.0,3970.2 282.9,3956.7 285.7,3943.2 289.5,3929.9 294.2,3916.8 299.8,3903.8 306.3,3891.0 313.7,3878.4" fill="none" stroke="#b4b4b4" stroke-width="3.457142857142859"/>
<polyline points="1910.3,3860.7 1914.2,3866.1 1917.9,3871.4 1921.5,3876.9 1924.9,3882.3 1928.2,3887.8" fill="none" stroke="url(#bv12)" stroke-width="3.457142857142859" stroke-opacity="0.25"/>
<polyline points="1927.0,3885.9 1930.2,3891.4 1933.2,3897.0 1936.0,3902.6 1938.7,3908.2 1941.1,3913.9" fill="none" stroke="url(#bv12)" stroke-width="3.457142857142859" stroke-opacity="0.5"/>
<polyline points="1940.3,3911.9 1942.7,3917.6 1944.9,3923.3 1946.9,3929.1 1948.7,3934.8 1950.4,3940.6" fill="none" stroke="url(#bv12)" stroke-width="3.457142857142859" stroke-opacity="0.75"/>
<polyline points="1949.8,3938.6 1953.1,3952.1 1955.5,3965.6 1956.8,3979.4 1957.1,3993.2 1956.3,4007.1 1954.5,4021.0 1951.6,4035.1 1947.6,4049.1 1942.5,4063.2 1936.3,4077.3 1928.9,4091.3 1920.4,4105.3 1910.7,4119.3 1899.8,4133.1 1887.7,4146.8 1874.5,4160.4 1860.1,4173.8 1844.5,4187.0 1827.7,4200.1 1809.7,4212.8 1790.7,4225.3 1770.4,4237.5 1749.1,4249.4 1726.6,4261.0 1703.1,4272.1 1678.5,4282.9 1652.9,4293.2 1626.3,4303.1 1598.8,4312.5 1570.4,4321.5 1541.1,4329.9 1511.0,4337.7 1480.2,4345.0 1448.6,4351.7 1416.4,4357.8 1383.6,4363.3 1350.2,4368.2 1316.4,4372.4 1282.2,4376.0 1247.7,4378.8 1212.9,4381.1 1177.9,4382.6 1142.8,4383.4 1107.7,4383.6 1072.5,4383.0 1037.5,4381.8 1002.6,4379.9 967.9,4377.3 933.6,4374.0 899.6,4370.1 866.0,4365.5 833.0,4360.3 800.5,4354.5 768.7,4348.0 737.5,4341.0 707.0,4333.4 677.4,4325.2 648.6,4316.5 620.7,4307.3 593.7,4297.6 567.6,4287.5 542.6,4276.9 518.6,4265.9 495.7,4254.5 473.8,4242.8 453.1,4230.7 433.5,4218.4 415.1,4205.7 397.8,4192.8 381.7,4179.7 366.7,4166.3 353.0,4152.8 340.4,4139.1 329.0,4125.4 318.8,4111.5 309.7,4097.5 301.8,4083.5" fill="none" stroke="url(#bv12)" stroke-width="3.457142857142859"/>
<polyline points="301.8,4083.5 295.1,4069.4 289.5,4055.4 285.0,4041.3 281.6,4027.3 279.3,4013.3 278.1,3999.4 278.0,3985.6 278.8,3971.8 280.7,3958.2 283.5,3944.7 287.3,3931.4 292.1,3918.2 297.7,3905.2 304.3,3892.3 311.7,3879.7" fill="none" stroke="#b3b3b3" stroke-width="3.457142857142859"/>
<polyline points="1907.5,3855.9 1911.6,3861.2 1915.5,3866.5 1919.3,3871.9 1922.9,3877.4 1926.4,3882.8" fill="none" stroke="url(#bv13)" stroke-width="3.457142857142859" stroke-opacity="0.25"/>
<polyline points="1925.2,3880.9 1928.5,3886.4 1931.7,3892.0 1934.7,3897.5 1937.6,3903.2 1940.3,3908.8" fill="none" stroke="url(#bv13)" stroke-width="3.457142857142859" stroke-opacity="0.5"/>
<polyline points="1939.4,3906.8 1942.0,3912.5 1944.4,3918.2 1946.6,3923.9 1948.7,3929.7 1950.6,3935.5" fill="none" stroke="url(#bv13)" stroke-width="3.457142857142859" stroke-opacity="0.75"/>
<polyline points="1949.9,3933.5 1953.8,3947.0 1956.6,3960.6 1958.5,3974.4 1959.3,3988.3 1959.0,4002.3 1957.7,4016.4 1955.3,4030.5 1951.8,4044.7 1947.2,4058.9 1941.4,4073.2 1934.5,4087.4 1926.4,4101.5 1917.1,4115.6 1906.6,4129.7 1895.0,4143.6 1882.1,4157.4 1868.0,4171.0 1852.7,4184.4 1836.3,4197.7 1818.6,4210.7 1799.8,4223.4 1779.8,4235.9 1758.7,4248.0 1736.4,4259.8 1713.0,4271.2 1688.6,4282.2 1663.1,4292.8 1636.6,4303.0 1609.1,4312.7 1580.7,4321.8 1551.4,4330.5 1521.2,4338.6 1490.3,4346.1 1458.6,4353.1 1426.3,4359.4 1393.3,4365.2 1359.8,4370.3 1325.8,4374.7 1291.4,4378.4 1256.6,4381.5 1221.5,4383.9 1186.2,4385.6 1150.8,4386.6 1115.3,4387.0 1079.8,4386.6 1044.4,4385.5 1009.1,4383.7 974.0,4381.2 939.3,4378.0 904.9,4374.2 871.0,4369.7 837.5,4364.5 804.6,4358.7 772.4,4352.3 740.8,4345.2 709.9,4337.6 679.9,4329.4 650.7,4320.7 622.4,4311.5 595.1,4301.7 568.7,4291.5 543.3,4280.9 519.0,4269.8 495.8,4258.3 473.6,4246.5 452.6,4234.3 432.8,4221.8 414.1,4209.1 396.6,4196.0 380.3,4182.8 365.2,4169.3 351.2,4155.6 338.5,4141.8 327.0,4127.9 316.7,4113.9 307.5,4099.8 299.6,4085.6" fill="none" stroke="url(#bv13)" stroke-width="3.457142857142859"/>
<polyline points="299.6,4085.6 292.8,4071.5 287.2,4057.4 282.8,4043.3 279.4,4029.2 277.1,4015.2 275.9,4001.2 275.8,3987.3 276.6,3973.6 278.5,3959.9 281.4,3946.4 285.2,3933.0 290.0,3919.7 295.7,3906.7 302.3,3893.8 309.7,3881.1" fill="none" stroke="#b1b1b1" stroke-width="3.457142857142859"/>
<polyline points="1801.2,3754.6 1805.0,3757.1 1808.8,3759.7 1812.6,3762.2 1816.3,3764.8 1820.0,3767.4 1823.6,3770.0 1827.2,3772.7 1830.8,3775.3 1834.3,3778.0 1837.8,3780.7 1841.2,3783.4" fill="none" stroke="#7a4018" stroke-width="2.4" stroke-opacity="0.12"/>
<polyline points="1837.8,3780.7 1841.2,3783.4 1844.6,3786.1 1848.0,3788.8 1851.3,3791.6 1854.6,3794.4 1857.8,3797.1 1861.0,3799.9 1864.1,3802.8 1867.2,3805.6 1870.3,3808.5 1873.3,3811.3" fill="none" stroke="#7a4018" stroke-width="2.4" stroke-opacity="0.24"/>
<polyline points="1870.3,3808.5 1873.3,3811.3 1876.2,3814.2 1879.1,3817.1 1882.0,3820.0 1884.8,3822.9 1887.6,3825.9 1890.3,3828.8 1893.0,3831.8 1895.6,3834.8 1898.2,3837.8 1900.7,3840.8" fill="none" stroke="#7a4018" stroke-width="2.4" stroke-opacity="0.36"/>
<polyline points="1898.2,3837.8 1900.7,3840.8 1903.2,3843.9 1905.6,3846.9 1908.0,3850.0 1910.3,3853.1 1912.6,3856.1 1914.9,3859.2 1917.0,3862.4 1919.1,3865.5 1921.2,3868.6 1923.2,3871.8" fill="none" stroke="#7a4018" stroke-width="2.4" stroke-opacity="0.48"/>
<polyline points="1921.2,3868.6 1923.2,3871.8 1925.2,3875.0 1927.1,3878.1 1928.9,3881.3 1930.7,3884.5 1932.5,3887.8 1934.2,3891.0 1935.8,3894.2 1937.4,3897.5 1938.9,3900.8 1940.4,3904.0 1941.8,3907.3 1943.1,3910.6 1944.4,3913.9 1945.6,3917.3 1946.8,3920.6 1947.9,3923.9 1948.9,3927.3 1949.9,3930.7 1950.8,3934.0 1951.7,3937.4 1952.5,3940.8 1953.2,3944.2 1953.9,3947.6 1954.5,3951.0 1955.1,3954.4 1955.6,3957.9 1956.0,3961.3 1956.3,3964.8" fill="none" stroke="#7a4018" stroke-width="2.4" stroke-opacity="0.6"/>
<text transform="translate(582.6,3349.5) scale(0.934,1)" font-size="65.7" font-weight="bold" fill="#595959">DISTRIBUCIÓN EMPLEADOS MARZO 24</text>
<text transform="translate(232.9,3490.8) scale(0.966,1)" font-size="40.7" font-weight="bold" fill="#255e91">MALAGA</text>
<text transform="translate(261.3,3546.0) scale(0.999,1)" font-size="40.7" font-weight="bold" fill="#255e91">1,71%</text>
<text transform="translate(92.4,3614.4) scale(0.941,1)" font-size="40.7" font-weight="bold" fill="#4472c4">CADI</text>
<text transform="translate(112.6,3670.6) scale(0.910,1)" font-size="40.7" font-weight="bold" fill="#4472c4">Z...</text>
<text transform="translate(273.4,3613.0) scale(0.872,1)" font-size="40.7" font-weight="bold" fill="#70ad47">FERROL</text>
<text transform="translate(287.9,3669.0) scale(1.005,1)" font-size="40.7" font-weight="bold" fill="#70ad47">0,18%</text>
<text transform="translate(434.7,3441.8) scale(0.910,1)" font-size="40.7" font-weight="bold" fill="#636363">SAN SEBASTIAN</text>
<text transform="translate(527.9,3499.0) scale(1.009,1)" font-size="40.7" font-weight="bold" fill="#636363">0,25%</text>
<text transform="translate(515.2,3570.0) scale(0.989,1)" font-size="40.7" font-weight="bold" fill="#9e480e">MURCIA</text>
<text transform="translate(538.9,3625.5) scale(0.985,1)" font-size="40.7" font-weight="bold" fill="#9e480e">4,78%</text>
<text transform="translate(779.2,3468.0) scale(0.870,1)" font-size="40.7" font-weight="bold" fill="#997300">SEVILLA</text>
<text transform="translate(797.0,3524.2) scale(0.996,1)" font-size="40.7" font-weight="bold" fill="#997300">5,56%</text>
<text transform="translate(918.2,3415.4) scale(0.924,1)" font-size="40.7" font-weight="bold" fill="#264478">VALLADOLID</text>
<text transform="translate(979.4,3470.6) scale(0.991,1)" font-size="40.7" font-weight="bold" fill="#264478">0,36%</text>
<text transform="translate(1193.0,3447.7) scale(0.960,1)" font-size="40.7" font-weight="bold" fill="#43682b">VIGO</text>
<text transform="translate(1182.7,3503.3) scale(0.995,1)" font-size="40.7" font-weight="bold" fill="#43682b">0,29%</text>
<text transform="translate(1418.5,3420.4) scale(0.954,1)" font-size="40.7" font-weight="bold" fill="#7cafdd">VITORIA</text>
<text transform="translate(1438.5,3476.0) scale(0.991,1)" font-size="40.7" font-weight="bold" fill="#7cafdd">0,28%</text>
<text transform="translate(1530.9,3534.8) scale(0.928,1)" font-size="40.7" font-weight="bold" fill="#f1975a">ZARAGOZA</text>
<text transform="translate(1580.1,3590.3) scale(1.001,1)" font-size="40.7" font-weight="bold" fill="#f1975a">0,35%</text>
<text transform="translate(1942.0,3590.3) scale(0.913,1)" font-size="40.7" font-weight="bold" fill="#5b9bd5">BCN</text>
<text transform="translate(1912.8,3646.3) scale(0.999,1)" font-size="40.7" font-weight="bold" fill="#5b9bd5">16,65%</text>
<text transform="translate(106.4,3760.6) scale(0.869,1)" font-size="40.7" font-weight="bold" fill="#ffc000">AST</text>
<text transform="translate(84.9,3816.8) scale(0.986,1)" font-size="40.7" font-weight="bold" fill="#ffc000">7,86%</text>
<text transform="translate(105.8,4142.5) scale(0.839,1)" font-size="40.7" font-weight="bold" fill="#a5a5a5">VLC</text>
<text transform="translate(82.2,4200.0) scale(0.990,1)" font-size="40.7" font-weight="bold" fill="#a5a5a5">8,23%</text>
<text transform="translate(1795.7,4529.0) scale(1.058,1)" font-size="40.7" font-weight="bold" fill="#ed7d31">MAD</text>
<text transform="translate(1776.3,4586.0) scale(0.996,1)" font-size="40.7" font-weight="bold" fill="#ed7d31">51,64%</text>
<polyline points="384.0,3545.4 403.3,3545.4 586.0,3669.6" fill="none" stroke="#a3a3a3" stroke-width="3.1" stroke-linejoin="round"/>
<polyline points="426.2,3612.0 446.0,3612.0 552.8,3683.0" fill="none" stroke="#a3a3a3" stroke-width="3.1" stroke-linejoin="round"/>
<polyline points="184.8,3625.9 205.0,3625.9 519.0,3698.4" fill="none" stroke="#a3a3a3" stroke-width="3.1" stroke-linejoin="round"/>
<polyline points="206.6,3816.3 227.5,3816.3 378.5,3786.0" fill="none" stroke="#a3a3a3" stroke-width="3.1" stroke-linejoin="round"/>
<polyline points="746.0,3442.8 764.0,3442.8 814.0,3608.0" fill="none" stroke="#a3a3a3" stroke-width="3.1" stroke-linejoin="round"/>
<polyline points="918.4,3525.2 938.7,3591.8" fill="none" stroke="#a3a3a3" stroke-width="3.1" stroke-linejoin="round"/>
<polyline points="1068.2,3484.0 1068.2,3583.3" fill="none" stroke="#a3a3a3" stroke-width="3.1" stroke-linejoin="round"/>
<polyline points="1176.3,3502.4 1156.0,3502.4 1084.4,3583.3" fill="none" stroke="#a3a3a3" stroke-width="3.1" stroke-linejoin="round"/>
<polyline points="1408.8,3419.4 1388.4,3419.4 1095.4,3583.3" fill="none" stroke="#a3a3a3" stroke-width="3.1" stroke-linejoin="round"/>
<polyline points="1524.0,3533.6 1502.7,3533.6 1108.3,3583.8" fill="none" stroke="#a3a3a3" stroke-width="3.1" stroke-linejoin="round"/>
<polyline points="1905.0,3645.8 1883.3,3645.8 1477.8,3619.0" fill="none" stroke="#a3a3a3" stroke-width="3.1" stroke-linejoin="round"/>
<polyline points="182.5,4140.8 204.0,4140.8 291.0,4148.3" fill="none" stroke="#a3a3a3" stroke-width="3.1" stroke-linejoin="round"/>
<polyline points="1789.0,4528.4 1768.6,4528.4 1557.0,4505.5" fill="none" stroke="#a3a3a3" stroke-width="3.1" stroke-linejoin="round"/>
</g>
</svg>
</body></html>
